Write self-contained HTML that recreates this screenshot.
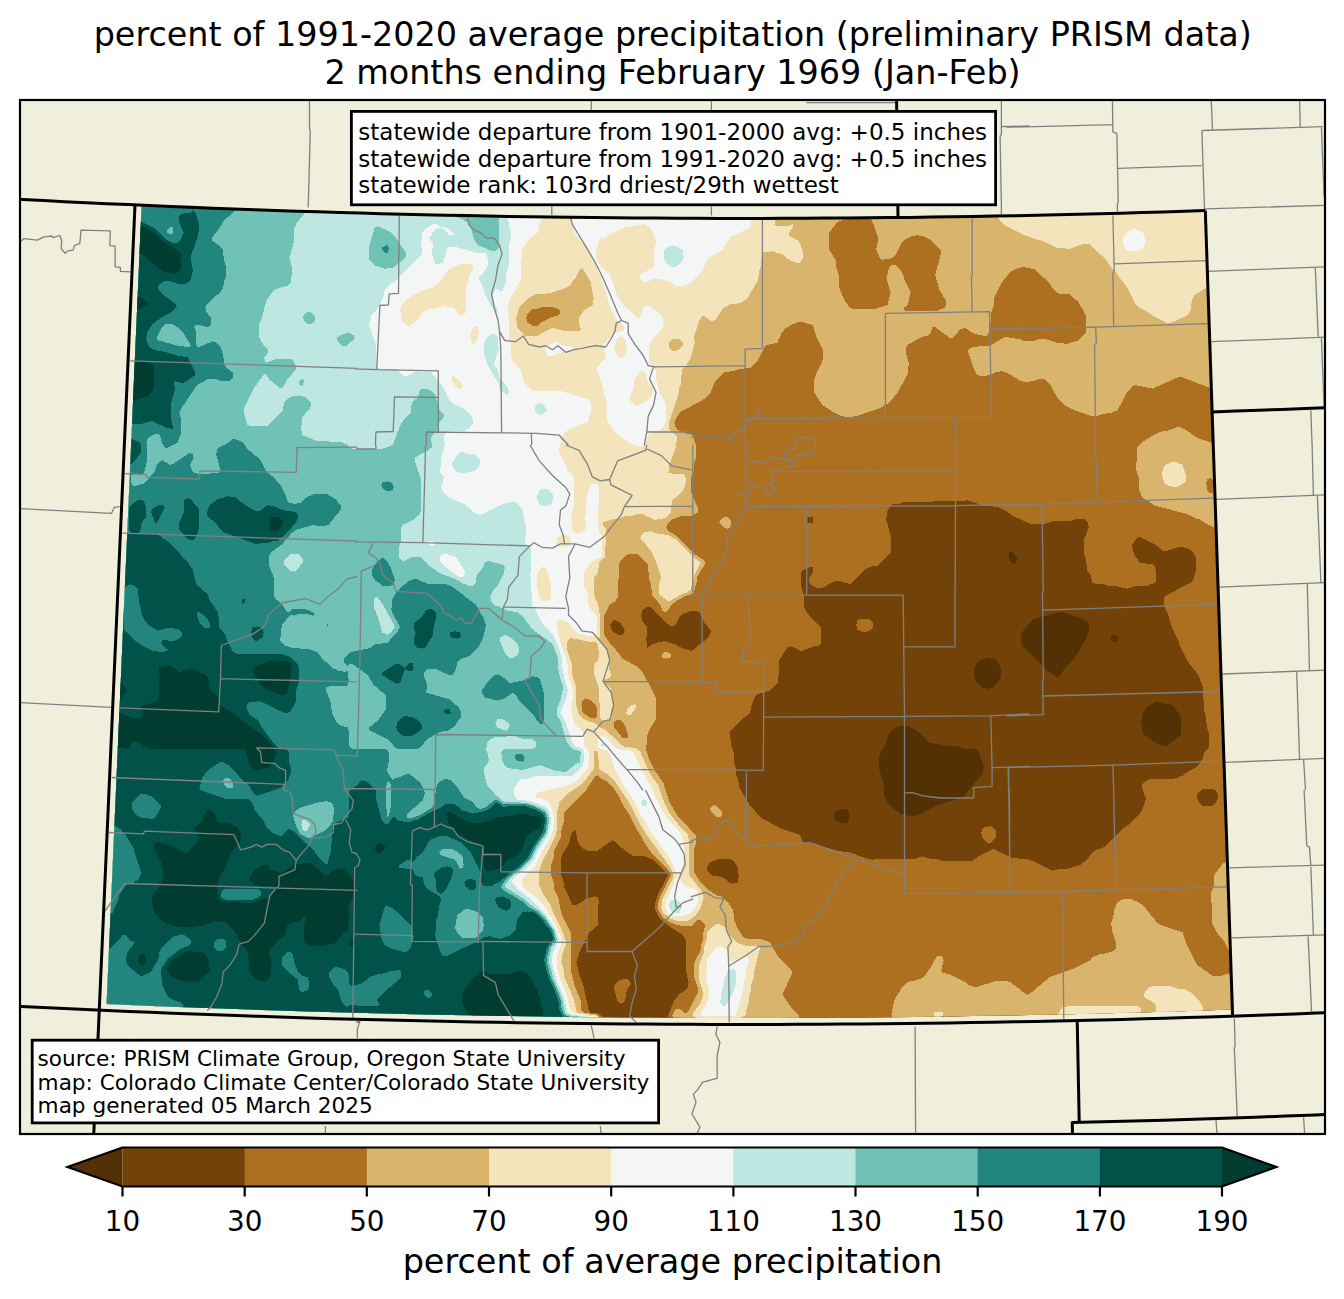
<!DOCTYPE html>
<html lang="en"><head><meta charset="utf-8"><title>percent of 1991-2020 average precipitation</title>
<style>html,body{margin:0;padding:0;background:#fff}body{width:1344px;height:1299px;overflow:hidden}</style></head>
<body>
<svg width="1344" height="1299" viewBox="0 0 1344 1299" style="display:block">
<defs>
<clipPath id="cd"><path d="M141.6 206.2L168.8 207.4L196.1 208.5L223.3 209.6L250.6 210.6L277.9 211.5L305.1 212.4L332.4 213.3L359.6 214.1L386.9 214.8L414.1 215.5L441.4 216.1L468.7 216.7L495.9 217.2L523.2 217.7L550.5 218.1L577.7 218.4L605.0 218.7L632.3 219.0L659.5 219.2L686.8 219.3L714.1 219.4L741.4 219.4L768.6 219.4L795.9 219.3L823.2 219.2L850.4 219.0L877.7 218.7L905.0 218.4L932.2 218.1L959.5 217.7L986.8 217.2L1014.0 216.7L1041.3 216.1L1068.6 215.5L1095.8 214.8L1123.1 214.1L1150.4 213.3L1177.6 212.5L1204.9 211.6L1231.9 1009.6L1203.0 1010.6L1174.2 1011.4L1145.3 1012.3L1116.5 1013.1L1087.6 1013.8L1058.8 1014.4L1029.9 1015.0L1001.1 1015.6L972.2 1016.1L943.3 1016.5L914.5 1016.9L885.6 1017.2L856.8 1017.4L827.9 1017.6L799.1 1017.8L770.2 1017.9L741.3 1017.9L712.5 1017.9L683.6 1017.8L654.8 1017.6L625.9 1017.4L597.0 1017.2L568.2 1016.9L539.3 1016.5L510.5 1016.1L481.6 1015.6L452.7 1015.0L423.9 1014.4L395.0 1013.8L366.2 1013.0L337.3 1012.3L308.5 1011.4L279.6 1010.5L250.8 1009.6L222.0 1008.6L193.1 1007.5L164.3 1006.4L135.4 1005.2L106.6 1004.0Z"/></clipPath>
<clipPath id="cf"><rect x="20" y="100" width="1305" height="1034"/></clipPath>
</defs>
<rect width="1344" height="1299" fill="#fff"/>
<rect x="20" y="100" width="1305" height="1034" fill="#efefdb"/>
<g clip-path="url(#cd)" shape-rendering="crispEdges">
<rect x="90" y="190" width="1170" height="850" fill="#543005"/>
<path d="M90.0 190.0L1255.0 190.0L1255.0 1035.0L90.0 1035.0ZM840.0 809.4L834.7 812.5L833.9 817.5L835.0 820.3L842.5 823.7L847.7 822.5L848.6 820.0L848.6 812.5L847.5 809.8L845.0 808.9ZM897.5 726.8L892.2 730.0L886.9 737.5L885.6 745.0L881.8 750.0L878.8 757.5L878.8 767.5L883.7 785.0L884.3 795.0L887.5 803.4L891.6 807.5L900.0 813.1L910.0 816.2L915.0 816.2L940.0 804.3L950.0 801.2L960.0 798.2L965.0 795.3L983.1 772.5L983.7 767.5L983.1 762.5L977.7 750.0L975.0 748.9L965.0 748.7L957.5 746.3L945.0 746.2L937.5 743.8L930.0 743.1L915.9 730.0L910.0 726.8L905.0 725.2ZM982.5 659.3L977.2 662.5L974.4 667.5L974.4 677.5L977.5 683.4L982.5 688.1L987.5 688.7L992.5 688.1L997.5 683.4L1000.6 677.5L1000.6 667.5L998.2 662.5L995.0 659.4L987.5 657.7ZM1010.0 551.7L1008.6 552.5L1008.4 555.0L1009.4 560.0L1012.5 563.5L1015.0 564.1L1017.3 560.0L1016.7 557.5L1013.3 552.5ZM1060.0 611.9L1032.5 619.4L1022.5 631.6L1021.3 635.0L1021.3 642.5L1022.5 645.9L1047.5 671.2L1052.5 674.3L1057.5 677.2L1060.0 675.8L1063.8 670.0L1072.5 660.9L1078.2 652.5L1081.8 645.0L1085.7 640.0L1088.7 632.5L1088.7 625.0L1088.1 622.5L1085.9 620.0L1062.5 611.9ZM1112.5 634.5L1110.3 637.5L1111.4 640.0L1115.0 642.2L1117.5 640.6L1117.5 636.8L1115.0 634.5ZM1155.0 701.9L1146.6 707.5L1141.9 715.0L1141.3 722.5L1141.9 730.0L1144.7 735.0L1152.5 740.7L1162.5 745.6L1167.5 745.6L1180.6 735.0L1181.2 730.0L1180.6 717.5L1178.2 712.5L1172.5 704.7L1162.5 703.2L1157.5 701.4Z" fill="#734208" fill-rule="evenodd"/>
<path d="M90.0 190.0L1255.0 190.0L1255.0 1035.0L1245.0 1035.0L662.3 1035.0L661.0 1030.0L653.3 1027.5L640.0 1026.3L627.5 1027.0L615.6 1030.0L613.8 1032.5L613.8 1035.0L90.0 1035.0ZM575.0 830.0L572.0 832.5L568.2 845.0L561.9 855.0L561.3 857.5L561.3 875.0L563.2 880.0L564.4 887.5L572.5 905.1L575.0 905.5L580.0 903.2L585.0 899.4L592.5 896.9L595.0 896.4L597.5 897.3L598.6 900.0L598.1 925.0L589.3 932.5L579.4 952.5L576.5 962.5L579.4 975.0L583.2 985.0L588.8 1010.0L590.5 1012.5L597.5 1013.0L600.0 1014.4L602.5 1017.6L605.0 1018.7L662.5 1018.7L667.5 1017.5L674.3 1000.0L680.0 993.8L687.5 988.4L688.7 982.5L686.3 972.5L685.6 940.0L682.5 934.7L670.0 926.8L660.0 919.0L655.3 910.0L655.2 902.5L657.7 895.0L667.5 875.8L667.5 874.3L657.5 863.5L652.5 859.4L645.0 856.3L632.5 855.6L624.1 850.0L615.0 841.4L612.5 840.3L597.5 850.6L592.5 851.2L587.5 850.6L582.5 848.2L579.3 845.0L576.8 840.0L576.4 832.5ZM612.5 621.4L610.2 625.0L611.8 630.0L615.0 633.2L620.0 635.5L622.5 635.2L624.8 630.0L620.3 622.5L615.0 620.2ZM647.5 606.9L642.2 610.0L641.3 615.0L641.9 620.0L647.3 627.5L646.3 640.0L647.5 647.6L652.5 644.4L660.0 641.8L665.0 641.3L675.0 644.3L682.5 648.2L690.0 650.6L692.5 650.5L702.5 641.8L705.9 640.0L708.2 637.5L710.6 632.5L710.5 630.0L704.3 622.5L700.0 612.3L697.5 611.4L690.0 611.3L682.5 614.3L679.3 617.5L675.3 625.0L672.5 626.1L670.0 625.6L667.5 623.7L652.5 608.8L650.0 607.0ZM717.5 859.3L709.7 862.5L706.9 867.5L707.0 870.0L712.5 875.6L722.5 876.9L729.1 882.5L732.5 883.7L737.7 882.5L738.7 877.5L738.1 867.5L732.5 859.7L727.5 858.8ZM807.5 517.0L805.3 520.0L806.8 522.5L810.0 523.6L812.5 522.7L813.5 520.0L812.7 517.5L810.0 516.4ZM905.0 501.8L900.0 503.7L892.5 504.4L889.3 507.5L886.9 512.5L886.3 520.0L891.2 537.5L890.6 552.5L877.5 565.6L870.0 566.9L864.1 570.0L850.0 584.2L840.0 581.3L835.0 581.3L832.5 581.9L822.5 588.1L817.5 588.1L812.5 585.7L809.4 582.5L809.4 577.5L813.1 572.5L813.5 570.0L812.6 567.5L810.0 567.0L802.3 570.0L801.4 572.5L801.3 587.5L803.7 595.0L804.4 607.5L807.5 613.4L820.6 627.5L821.1 642.5L820.0 645.2L812.5 646.8L802.5 650.6L800.0 650.6L792.5 646.9L790.0 646.4L787.2 647.5L779.4 660.0L778.1 682.5L770.0 690.6L757.5 694.4L755.0 696.6L751.8 705.0L750.0 713.4L742.5 718.8L729.5 732.5L731.3 745.0L733.7 752.5L733.8 762.5L735.7 767.5L736.3 775.0L738.2 780.0L739.4 787.5L750.0 805.9L762.5 818.7L780.0 828.2L800.0 834.8L801.9 840.0L805.0 843.1L812.5 843.8L837.5 850.7L850.0 852.5L867.5 858.7L872.5 859.9L877.5 858.8L915.0 858.7L922.5 856.4L930.0 858.7L937.5 859.3L942.5 861.2L970.0 861.2L972.5 860.6L977.5 856.8L992.5 849.4L995.0 849.4L1012.5 858.1L1027.5 859.3L1035.0 861.8L1052.5 870.6L1060.0 868.8L1067.5 868.7L1080.9 865.0L1088.7 857.5L1092.5 852.2L1097.5 849.3L1102.5 848.1L1105.0 846.2L1122.5 828.8L1130.0 823.7L1140.0 813.4L1143.2 807.5L1145.6 800.0L1145.6 797.5L1141.9 787.5L1142.0 785.0L1145.0 781.3L1150.0 778.8L1175.0 778.7L1182.5 775.7L1187.5 771.8L1195.0 768.2L1198.7 765.0L1203.2 757.5L1204.4 752.5L1209.2 747.5L1208.7 732.5L1206.8 727.5L1206.2 717.5L1203.8 710.0L1203.2 687.5L1198.2 675.0L1186.8 660.0L1179.3 645.0L1178.2 640.0L1171.8 627.5L1168.2 615.0L1163.8 605.0L1164.4 597.5L1166.6 595.0L1190.0 583.2L1193.1 580.0L1196.2 570.0L1195.6 557.5L1193.2 552.5L1190.0 549.4L1180.0 546.4L1167.5 550.6L1162.5 550.6L1155.0 544.3L1140.0 537.0L1137.5 537.3L1132.0 545.0L1131.9 547.5L1134.4 555.0L1140.0 562.8L1152.5 564.4L1155.0 566.6L1156.2 572.5L1156.1 580.0L1155.2 582.5L1147.5 585.7L1135.0 586.3L1127.5 588.7L1122.5 588.2L1117.5 586.3L1110.0 586.2L1102.5 583.8L1095.0 583.6L1092.3 582.5L1090.6 575.0L1086.9 570.0L1086.2 560.0L1083.8 552.5L1083.8 540.0L1088.7 527.5L1088.1 522.5L1085.0 519.4L1077.5 518.8L1070.0 521.2L1052.5 521.3L1045.0 523.7L1030.0 523.7L1012.5 515.7L1007.5 511.8L997.5 506.9L982.5 505.7L967.5 500.2L962.5 501.2ZM1202.5 789.4L1197.0 795.0L1196.9 797.5L1199.3 802.5L1202.5 805.6L1207.5 806.2L1212.5 805.6L1215.7 802.5L1218.1 797.5L1218.1 795.0L1215.3 790.0L1212.5 788.8ZM857.3 620.0L860.0 618.9L870.0 619.4L873.1 622.5L873.6 625.0L872.5 628.4L870.0 630.7L865.0 632.3L857.5 630.2L856.3 625.0ZM984.1 827.5L990.0 826.3L992.5 826.9L995.6 830.0L995.6 837.5L992.5 841.2L990.0 843.0L987.5 843.0L981.9 837.5L981.3 832.5L981.9 830.0ZM619.1 980.0L625.0 978.8L627.5 979.4L630.5 982.5L630.5 985.0L626.9 990.0L625.0 1000.9L622.5 1003.0L620.0 1003.0L616.9 1000.0L613.9 987.5L615.0 984.1Z" fill="#ad7021" fill-rule="evenodd"/>
<path d="M90.0 190.0L851.3 190.0L851.4 212.5L855.0 216.8L857.3 217.5L850.0 218.4L837.5 221.8L829.4 232.5L828.8 235.0L829.4 250.0L835.6 260.0L836.3 267.5L838.7 275.0L839.3 287.5L844.3 300.0L849.7 307.5L852.5 308.7L875.0 308.7L887.5 305.2L890.6 292.5L886.4 277.5L889.4 267.5L892.5 264.5L895.0 264.5L900.7 270.0L903.2 275.0L904.3 280.0L910.6 292.5L907.8 305.0L904.4 307.5L903.7 310.0L907.5 311.1L920.0 311.2L937.5 310.7L945.0 307.7L946.1 305.0L945.6 300.0L939.4 290.0L935.1 275.0L940.6 255.0L940.6 250.0L930.0 239.3L925.0 236.8L917.5 235.1L910.0 236.8L904.1 240.0L901.8 242.5L895.7 255.0L892.5 258.1L882.5 259.8L880.0 258.3L876.3 250.0L876.8 245.0L878.6 240.0L878.1 237.5L873.1 222.5L870.0 218.4L867.9 217.5L873.3 215.0L876.0 212.5L876.2 190.0L1255.0 190.0L1255.0 376.2L1217.5 376.5L1215.0 379.4L1212.7 387.5L1210.0 388.0L1180.0 376.4L1152.5 388.7L1135.0 385.2L1132.5 386.4L1126.8 392.5L1117.5 410.3L1110.0 413.2L1102.5 413.8L1097.5 415.7L1092.5 416.2L1075.0 410.7L1064.1 405.0L1057.5 398.4L1050.7 385.0L1045.0 379.4L1040.0 378.8L1035.0 380.7L1025.0 382.3L1020.0 380.7L1010.0 374.3L1002.5 371.3L997.5 371.8L985.0 376.2L977.5 375.3L974.3 370.0L968.4 352.5L968.3 350.0L972.5 346.9L990.0 345.6L1005.0 336.9L1020.0 339.3L1025.0 341.2L1032.5 341.2L1040.0 338.8L1045.0 338.8L1057.5 343.2L1067.5 343.7L1077.5 340.6L1085.6 332.5L1086.2 327.5L1085.6 315.0L1078.7 302.5L1070.0 294.4L1060.0 293.7L1056.6 292.5L1052.5 288.4L1048.7 282.5L1035.0 269.4L1022.5 266.9L1015.0 269.3L1010.0 272.2L1001.8 282.5L994.4 297.5L993.7 305.0L991.3 312.5L991.2 320.0L989.3 325.0L988.6 332.5L987.5 335.2L985.0 336.1L972.5 333.1L965.0 327.7L960.0 329.7L953.3 337.5L950.0 338.0L935.0 327.0L932.4 327.5L930.6 332.5L927.5 335.6L922.5 336.8L907.5 344.7L906.3 347.5L906.3 352.5L906.8 357.5L908.7 362.5L908.1 372.5L897.5 393.4L887.5 403.7L880.0 408.2L857.5 415.7L847.5 417.4L840.0 415.7L835.0 413.2L822.2 405.0L814.4 392.5L813.8 385.0L814.3 380.0L816.8 372.5L820.7 365.0L823.2 357.5L823.1 350.0L816.8 337.5L812.7 325.0L800.0 321.4L792.5 324.3L785.0 328.8L781.8 332.5L777.5 342.7L766.6 345.0L764.3 347.5L757.5 360.9L750.0 368.1L740.0 368.8L735.0 370.7L724.1 372.5L715.0 381.6L710.7 392.5L705.0 398.7L680.0 412.2L676.8 417.5L674.5 422.5L674.5 425.0L677.4 430.0L685.0 433.2L692.5 434.8L695.7 445.0L696.2 457.5L694.3 462.5L693.7 470.0L691.4 477.5L691.3 492.5L698.6 510.0L697.5 512.8L692.5 515.6L680.0 516.3L672.5 519.4L667.5 524.1L666.4 527.5L667.1 530.0L677.5 536.7L696.0 555.0L703.6 560.0L705.3 562.5L704.5 565.0L697.5 576.3L696.7 582.5L693.6 592.5L692.5 593.8L685.0 596.2L678.0 600.0L671.5 605.0L667.5 610.8L665.0 612.2L662.5 610.7L660.6 605.0L651.9 595.0L651.2 585.0L648.8 577.5L648.1 565.0L637.5 554.4L630.0 553.8L626.6 555.0L620.0 561.6L618.8 565.0L618.1 597.5L615.0 601.2L609.7 605.0L604.4 615.0L604.5 635.0L610.0 643.4L617.5 651.6L622.5 658.7L637.5 666.8L642.5 671.6L655.6 697.5L656.2 717.5L655.6 720.0L649.3 730.0L646.8 737.5L646.3 750.0L649.4 760.0L654.4 770.0L663.2 782.5L669.6 802.5L677.5 815.8L695.6 835.0L696.2 842.5L693.9 850.0L694.4 872.5L698.9 880.0L710.0 891.2L717.5 895.7L722.5 896.9L727.5 901.6L733.1 910.0L734.3 920.0L736.9 927.5L742.5 935.9L745.0 938.1L747.5 938.7L760.0 938.8L770.0 942.2L777.5 955.9L791.1 970.0L792.3 972.5L791.7 975.0L784.3 990.0L782.7 995.0L790.0 1005.9L798.5 1015.0L798.8 1017.5L795.0 1018.7L752.5 1018.8L735.0 1021.1L715.0 1021.3L700.0 1021.1L685.0 1018.8L675.0 1018.6L672.7 1017.5L672.4 1015.0L675.0 1010.0L677.5 1008.9L680.0 1009.4L685.0 1013.0L687.5 1012.5L698.0 992.5L697.7 987.5L693.7 975.0L693.7 965.0L696.7 957.5L700.2 952.5L701.0 945.0L702.9 940.0L703.3 932.5L705.5 925.0L700.0 919.6L697.5 920.0L692.5 925.6L682.5 926.3L670.0 922.6L662.5 917.0L658.3 910.0L657.7 905.0L660.8 895.0L670.0 877.5L670.8 875.0L670.0 873.1L667.5 869.4L651.3 852.5L644.3 842.5L640.6 835.0L636.8 830.0L628.1 812.5L624.3 807.5L618.0 795.0L612.5 786.7L608.4 782.5L600.0 777.9L597.5 775.0L595.0 776.7L586.2 790.0L564.4 812.5L563.7 822.5L561.4 830.0L560.7 837.5L554.4 850.0L553.7 857.5L551.3 865.0L551.3 870.0L551.3 875.0L553.7 882.5L554.4 890.0L558.1 897.5L561.9 915.0L570.7 932.5L571.3 972.5L574.4 985.0L580.6 1000.0L581.4 1010.0L583.5 1012.5L597.5 1014.8L600.5 1017.5L601.7 1020.0L601.7 1025.0L597.5 1029.1L586.0 1030.0L583.8 1032.5L583.7 1035.0L90.0 1035.0ZM542.5 306.8L540.0 308.2L532.5 309.4L527.5 314.1L526.3 317.5L527.2 322.5L532.5 325.6L537.5 325.6L541.5 322.5L552.5 316.8L557.5 315.6L560.5 312.5L560.0 309.9L552.5 306.8ZM585.0 698.3L582.5 701.4L581.4 705.0L582.5 712.4L589.6 717.5L592.5 718.3L595.0 718.6L596.5 717.5L597.2 712.5L596.6 707.5L595.0 704.0L590.9 700.0ZM617.5 719.5L613.7 722.5L614.3 727.5L622.3 737.5L625.0 738.5L627.6 737.5L628.0 735.0L625.7 727.5L622.5 721.6L620.0 719.5ZM1176.4 427.5L1180.0 426.9L1185.0 429.3L1197.5 438.1L1217.5 444.5L1222.5 451.0L1255.0 451.2L1255.0 526.2L1232.5 526.5L1228.8 530.0L1225.0 531.1L1220.0 529.3L1215.0 528.2L1205.0 523.2L1200.0 519.4L1195.0 518.2L1187.5 514.3L1155.0 505.6L1142.2 497.5L1139.3 490.0L1138.7 477.5L1136.3 470.0L1136.9 447.5L1141.6 442.5L1155.0 434.3L1160.0 431.9L1167.5 430.7ZM1207.5 479.2L1206.3 482.5L1206.9 490.0L1210.0 493.0L1212.5 492.6L1213.7 487.5L1213.1 480.0L1210.0 477.8ZM723.9 517.5L727.5 517.0L730.6 520.0L731.1 525.0L730.0 527.7L727.5 528.6L724.1 527.5L719.5 522.5L719.8 520.0ZM664.3 652.5L667.5 652.0L671.6 655.0L670.0 658.0L665.0 658.6L662.5 657.6L662.0 655.0ZM710.5 807.5L712.5 805.5L715.0 805.4L717.5 806.7L720.8 810.0L722.1 812.5L722.0 815.0L720.0 817.0L717.5 817.1L715.0 815.8L711.7 812.5L710.4 810.0ZM1233.9 857.5L1237.5 856.6L1240.1 857.5L1242.0 860.0L1245.0 870.4L1246.8 872.5L1247.5 877.5L1249.8 880.0L1250.0 920.0L1249.8 922.5L1247.5 925.0L1246.8 930.0L1245.0 932.1L1244.0 937.5L1242.5 939.9L1239.4 952.5L1238.0 955.0L1235.0 955.5L1230.0 952.8L1223.2 940.0L1216.8 932.5L1211.9 922.5L1211.3 892.5L1213.7 885.0L1214.4 875.0L1222.5 863.8ZM1121.3 900.0L1125.0 898.8L1130.0 898.8L1137.5 901.8L1142.8 905.0L1157.5 923.2L1162.5 925.7L1182.5 932.3L1186.8 945.0L1197.2 965.0L1212.5 975.6L1220.0 976.2L1227.5 973.8L1237.5 972.7L1242.5 976.0L1255.0 976.2L1255.0 1035.0L888.8 1035.0L888.8 1032.5L890.6 1030.0L899.2 1027.5L910.0 1026.4L1147.5 1025.2L1187.5 1024.7L1212.5 1026.1L1235.0 1026.1L1237.7 1025.0L1238.5 1022.5L1237.7 1020.0L1235.0 1018.9L1207.5 1018.8L1197.5 1020.3L1160.0 1020.2L1147.5 1018.8L1132.5 1020.3L1065.0 1020.3L1050.0 1018.8L950.0 1018.8L937.5 1020.3L927.5 1018.8L895.0 1018.7L892.5 1017.7L891.4 1015.0L894.4 1000.0L902.5 986.6L907.5 981.9L915.0 980.7L923.4 977.5L930.7 967.5L935.0 959.1L937.5 956.4L940.0 955.3L942.5 956.7L943.7 960.0L941.4 970.0L942.3 972.5L950.0 974.4L965.0 981.8L970.0 985.7L975.0 987.3L995.0 981.3L1007.5 981.3L1010.9 982.5L1025.0 993.6L1027.5 994.7L1030.0 993.6L1050.0 976.9L1075.0 968.2L1090.0 960.3L1092.5 957.2L1100.0 954.3L1107.5 953.2L1115.2 950.0L1116.1 947.5L1116.2 942.5L1111.8 930.0L1111.3 922.5L1113.2 917.5L1114.3 910.0L1117.2 902.5ZM699.8 1025.0L707.5 1023.9L722.5 1023.8L745.0 1024.4L762.5 1026.1L795.0 1026.8L798.1 1027.5L801.0 1030.0L801.2 1035.0L782.5 1035.0L679.0 1035.0L679.2 1030.0L681.5 1027.5Z" fill="#d8b46c" fill-rule="evenodd"/>
<path d="M90.0 190.0L776.3 190.0L776.5 215.0L774.2 225.0L777.5 226.2L787.5 226.2L791.5 225.0L792.5 223.7L792.7 227.5L789.0 232.5L788.4 235.0L792.5 238.1L797.8 240.0L800.7 245.0L803.1 252.5L803.1 257.5L800.2 262.5L797.5 263.0L790.0 260.6L782.5 254.4L772.5 251.3L765.0 251.9L761.9 255.0L761.2 265.0L758.8 272.5L758.1 280.0L747.5 298.4L740.0 303.1L730.0 304.4L725.0 306.8L722.5 309.1L715.0 320.3L712.5 321.1L710.0 320.6L705.0 316.5L702.5 315.9L699.4 320.0L694.4 335.0L693.9 337.5L694.9 342.5L690.7 357.5L688.2 362.5L681.9 370.0L680.7 385.0L679.3 387.5L678.2 395.0L669.7 420.0L668.9 425.0L669.7 430.0L676.0 435.0L677.3 437.5L675.7 447.5L669.3 465.0L668.5 472.5L672.5 473.7L682.5 473.9L685.2 475.0L686.1 482.5L683.2 490.0L677.5 496.2L672.2 500.0L670.6 512.5L665.0 518.1L655.0 519.8L642.5 514.4L637.5 513.8L632.5 515.7L625.0 516.3L620.0 518.2L612.5 519.3L602.9 522.5L602.7 525.0L605.3 527.5L606.2 530.0L605.1 555.0L604.6 557.5L599.1 562.5L598.1 572.5L594.4 577.5L593.9 595.0L598.2 605.0L599.8 615.0L600.0 632.5L599.2 640.0L605.6 647.5L608.7 657.5L608.8 667.5L611.1 675.0L610.0 677.7L605.0 679.5L603.3 682.5L610.0 687.2L611.2 690.0L611.3 697.5L613.1 705.0L611.3 710.0L611.0 717.5L609.6 720.0L605.0 721.2L602.5 721.1L601.1 720.0L600.3 717.5L598.7 687.5L593.8 672.5L594.4 665.0L598.1 660.0L598.7 657.5L598.4 645.0L595.0 641.9L585.0 641.3L577.5 638.9L570.0 638.3L566.9 642.5L566.6 645.0L567.3 650.0L571.5 662.5L572.2 675.0L576.5 687.5L576.3 705.0L579.1 715.0L582.5 718.3L587.5 721.0L593.1 722.5L597.5 724.7L600.0 727.8L605.9 730.0L622.5 746.2L635.0 748.2L638.5 750.0L640.6 752.5L649.3 772.5L658.0 785.0L664.3 802.5L669.5 812.5L675.0 820.7L688.1 835.0L688.8 840.0L688.7 872.5L689.3 875.0L693.0 880.0L701.0 890.0L703.7 897.5L700.8 907.5L696.2 915.0L692.5 918.1L687.5 920.6L680.0 921.1L675.0 920.4L670.0 918.3L662.9 912.5L661.4 907.5L662.2 900.0L673.0 877.5L673.4 875.0L670.3 867.5L646.8 835.0L639.3 822.5L630.5 805.0L615.0 781.5L608.5 775.0L600.0 769.7L598.8 767.5L598.3 752.5L595.0 750.3L594.1 752.5L593.8 767.5L593.1 770.0L582.5 783.8L569.1 792.5L559.4 802.5L556.9 812.5L556.6 830.0L555.8 835.0L542.0 862.5L538.8 872.5L538.8 880.0L539.3 885.0L541.9 892.5L550.6 905.0L552.0 910.0L560.8 927.5L565.7 940.0L565.7 945.0L562.2 955.0L561.4 962.5L563.8 970.0L564.5 977.5L573.2 997.5L576.2 1010.0L577.5 1012.6L597.5 1015.8L599.3 1017.5L600.5 1022.5L599.8 1025.0L597.5 1027.3L579.2 1030.0L578.3 1035.0L90.0 1035.0ZM580.0 269.3L575.7 277.5L570.0 285.3L565.0 288.2L550.0 293.2L535.0 294.4L527.5 298.8L519.4 307.5L516.3 317.5L516.9 327.5L525.0 335.6L535.0 336.2L537.5 335.6L552.5 327.7L565.0 331.2L577.5 331.2L581.3 330.0L578.8 322.5L579.4 317.5L584.1 310.0L592.8 305.0L593.7 297.5L590.6 282.5L588.2 277.5L582.5 268.4ZM672.5 339.4L669.4 342.5L669.4 347.5L672.5 350.6L675.0 351.1L678.4 350.0L683.0 345.0L683.0 342.5L680.0 339.4ZM1001.2 190.0L1255.0 190.0L1255.0 301.2L1217.5 301.3L1215.0 301.1L1212.5 298.9L1209.8 295.0L1207.5 288.5L1205.0 288.4L1194.7 295.0L1191.9 300.0L1190.6 310.0L1187.5 315.3L1170.0 323.1L1167.5 323.1L1152.5 315.7L1147.5 311.8L1140.0 308.2L1136.3 305.0L1125.7 285.0L1120.0 278.4L1117.5 274.1L1110.0 265.9L1106.2 260.0L1090.0 244.4L1082.5 244.3L1070.0 248.7L1057.5 248.1L1045.0 241.8L1025.0 235.7L1004.1 225.0L999.0 220.0L998.5 217.5L1000.0 216.2L1007.5 215.0L1005.0 214.1L1001.6 210.0ZM1171.4 462.5L1175.0 461.9L1182.5 464.8L1185.7 475.0L1186.1 480.0L1185.3 482.5L1177.5 486.7L1175.0 487.3L1166.6 485.0L1164.4 482.5L1161.9 475.0L1161.9 472.5L1164.8 465.0ZM644.1 532.5L650.0 531.3L657.5 533.7L668.3 535.0L676.5 540.0L695.0 558.3L700.8 562.5L694.5 575.0L690.5 590.0L687.5 592.2L682.5 593.8L670.0 600.8L667.5 600.6L659.8 595.0L658.9 592.5L658.8 585.0L661.1 577.5L660.6 575.0L655.7 560.0L650.7 550.0L641.4 540.0L640.3 537.5L641.4 535.0ZM631.7 705.0L635.0 704.3L636.2 705.0L636.0 707.5L630.7 715.0L627.5 715.1L626.5 712.5L627.5 709.1ZM714.1 925.0L717.5 923.9L720.0 924.4L725.0 927.2L730.0 935.9L737.5 943.1L747.5 946.2L757.5 946.0L760.1 947.5L753.8 972.5L753.7 977.5L751.3 985.0L751.2 990.0L748.8 997.5L748.7 1002.5L746.9 1007.5L745.9 1015.0L742.5 1017.1L735.0 1018.5L702.5 1018.7L695.6 1017.5L692.0 1015.0L700.6 1002.5L703.1 995.0L703.1 992.5L699.3 980.0L698.9 965.0L704.1 952.5L704.6 945.0L706.5 940.0L707.3 932.5ZM1149.1 987.5L1152.5 986.3L1170.0 986.3L1177.5 988.7L1185.0 989.4L1190.0 991.8L1198.7 1000.0L1203.1 1007.5L1203.4 1015.0L1200.0 1017.1L1162.5 1017.2L1157.5 1016.0L1156.6 1015.0L1155.6 1005.0L1152.5 1001.8L1145.0 997.8L1143.9 995.0L1145.0 991.6ZM1062.2 1007.5L1067.5 1006.3L1137.5 1006.4L1140.2 1007.5L1141.1 1010.0L1140.6 1012.5L1137.5 1016.2L1132.5 1017.2L1060.0 1017.0L1057.3 1015.0ZM934.7 1012.5L940.0 1011.4L942.7 1012.5L943.3 1015.0L940.0 1017.1L935.0 1016.5L933.7 1015.0ZM701.8 1027.5L715.0 1026.3L747.5 1027.5L753.4 1030.0L754.0 1035.0L750.0 1035.0L696.9 1035.0L697.5 1030.0ZM1143.4 1030.0L1160.0 1027.9L1192.5 1028.1L1200.4 1030.0L1201.2 1035.0L1185.0 1035.0L1126.0 1035.0L1132.5 1034.1L1134.2 1032.5L1140.0 1031.7Z" fill="#f3e4bb" fill-rule="evenodd"/>
<path d="M90.0 190.0L551.3 190.0L550.7 215.0L547.4 217.5L542.5 219.0L540.0 221.5L537.8 232.5L532.5 236.3L526.3 242.5L521.9 250.0L520.6 280.0L509.4 300.0L507.6 310.0L508.7 315.0L508.8 337.5L511.2 345.0L511.3 357.5L512.5 360.9L520.6 370.0L524.4 382.5L532.5 390.6L562.5 391.3L587.5 399.4L590.6 402.5L591.2 410.0L587.7 422.5L580.0 424.4L565.0 432.2L561.9 437.5L558.9 450.0L559.4 452.5L565.7 465.0L566.9 470.0L572.8 475.0L573.7 477.5L573.7 507.5L571.3 515.0L571.9 530.0L575.0 533.1L577.5 533.6L580.0 533.1L585.3 530.0L586.2 527.5L585.1 517.5L586.2 512.5L586.8 495.0L590.0 486.6L592.5 484.3L597.5 483.5L598.7 487.5L598.3 525.0L599.4 532.5L602.5 537.5L602.5 540.0L602.0 555.0L600.0 557.4L595.0 559.3L591.3 562.5L584.4 572.5L583.8 575.0L584.4 587.5L588.1 592.5L588.6 595.0L587.6 602.5L588.3 605.0L590.0 608.4L596.2 615.0L597.1 617.5L597.1 632.5L596.0 635.0L595.0 635.9L587.5 636.1L577.5 633.1L573.8 630.0L568.4 622.5L560.0 619.5L557.5 619.9L556.4 622.5L559.7 640.0L565.3 655.0L567.8 665.0L568.7 677.5L572.8 690.0L573.1 697.5L571.2 705.0L571.8 715.0L574.7 725.0L580.0 728.8L583.1 732.5L584.0 745.0L588.0 750.0L588.7 752.5L588.7 765.0L587.5 768.4L577.5 780.6L567.5 785.6L537.2 792.5L535.9 795.0L536.1 797.5L545.0 799.4L547.5 801.2L550.8 805.0L553.4 812.5L553.8 820.0L552.9 830.0L550.6 837.5L544.4 847.5L535.0 866.0L521.9 880.0L521.9 885.0L526.4 890.0L535.0 896.2L542.5 904.0L548.4 912.5L556.8 927.5L561.0 937.5L561.6 942.5L556.8 957.5L556.5 965.0L559.6 977.5L565.8 992.5L569.7 1007.5L572.1 1012.5L580.7 1015.0L597.5 1016.8L599.3 1020.0L599.4 1022.5L597.5 1026.2L581.6 1027.5L577.5 1028.8L574.9 1030.0L574.2 1035.0L90.0 1035.0ZM460.0 264.3L452.5 266.9L450.0 268.8L445.0 274.1L441.2 280.0L433.4 287.5L425.0 289.4L415.0 294.3L406.6 300.0L402.5 304.1L400.2 310.0L401.9 320.0L403.8 322.5L407.5 325.5L410.0 325.5L417.8 320.0L422.5 312.2L430.0 309.3L437.5 308.2L442.5 306.3L452.5 306.9L456.2 310.0L460.0 315.2L462.5 315.5L465.0 313.4L466.2 310.0L466.3 287.5L469.4 275.0L473.1 270.0L473.6 267.5L472.7 265.0L470.0 263.9ZM475.0 325.9L471.8 330.0L470.2 335.0L471.7 342.5L472.5 343.8L475.0 343.1L478.1 337.5L478.7 332.5L478.0 327.5ZM542.5 567.0L539.3 570.0L536.9 575.0L536.4 585.0L539.4 597.5L542.5 600.6L545.0 601.2L550.2 600.0L551.1 597.5L551.2 585.0L549.3 580.0L548.1 572.5L545.2 567.5ZM562.5 534.4L557.2 537.5L556.4 542.5L557.2 545.0L560.0 546.7L562.5 547.3L565.0 546.8L570.2 545.0L571.1 540.0L570.0 537.2L565.0 534.4ZM452.5 376.3L451.9 380.0L455.0 385.9L457.5 388.1L460.0 388.9L462.5 387.7L460.7 382.5L458.7 380.0L455.0 376.6ZM576.2 190.0L751.2 190.0L751.2 222.5L750.3 227.5L730.0 237.2L722.8 250.0L709.1 257.5L706.8 260.0L703.1 270.0L701.2 272.5L690.9 282.5L685.0 285.6L680.0 286.2L675.0 285.6L670.0 281.9L660.0 278.8L652.5 279.4L645.0 282.3L642.5 281.1L639.5 277.5L640.0 274.8L652.5 267.8L653.7 265.0L653.8 250.0L655.7 245.0L656.2 240.0L650.3 227.5L646.2 225.0L642.5 223.9L635.0 226.2L625.0 226.9L610.0 234.3L605.0 238.0L600.0 238.5L596.5 250.0L596.3 257.5L601.5 267.5L610.3 275.0L616.8 295.0L619.3 300.0L627.5 308.7L637.5 318.0L640.1 317.5L641.9 310.0L643.4 307.5L645.0 305.8L647.5 305.9L658.4 312.5L663.1 317.5L663.7 322.5L663.1 327.5L652.5 339.1L649.4 345.0L648.8 357.5L649.4 362.5L655.6 370.0L656.3 380.0L659.3 392.5L665.6 402.5L666.1 415.0L665.3 422.5L663.1 427.5L660.9 430.0L652.5 431.9L648.8 435.0L646.9 437.5L645.0 445.2L642.5 446.1L637.5 446.2L630.0 443.2L615.0 432.8L606.9 420.0L606.3 412.5L607.4 407.5L606.2 400.0L604.3 395.0L603.2 387.5L596.9 370.0L597.0 367.5L605.5 357.5L605.6 355.0L603.8 350.0L604.0 345.0L614.1 332.5L622.5 331.0L624.0 330.0L624.1 327.5L622.5 324.1L616.5 320.0L609.3 305.0L603.2 282.5L593.5 260.0L583.2 242.5L574.4 232.5L571.4 222.5L572.5 218.7L576.0 215.0ZM640.0 370.8L634.4 380.0L633.1 390.0L629.4 397.5L630.0 400.8L635.0 405.5L637.5 405.6L640.0 404.3L648.4 400.0L653.1 392.5L653.1 390.0L646.9 380.0L645.3 372.5L642.5 370.9ZM620.0 336.9L616.9 340.0L614.4 347.5L614.4 350.0L616.8 355.0L620.0 358.0L622.5 358.0L625.0 355.9L627.3 350.0L625.6 340.0L622.5 336.9ZM1201.3 212.5L1202.5 211.8L1205.0 212.4L1205.7 215.0L1205.0 216.2L1202.5 215.8ZM1129.1 230.0L1135.0 228.8L1142.8 232.5L1145.6 240.0L1145.6 242.5L1143.2 247.5L1140.9 250.0L1137.5 251.2L1130.0 251.2L1127.5 250.6L1124.4 247.5L1122.7 240.0L1123.3 237.5L1125.0 234.1ZM553.9 342.5L557.5 342.0L562.5 345.7L572.5 347.0L575.0 349.6L577.5 349.6L579.2 347.5L582.5 346.7L584.3 347.5L582.5 350.4L575.0 350.2L562.5 351.8L552.5 355.6L550.0 356.1L547.5 355.3L545.2 350.0L546.4 347.5L550.0 344.3ZM589.9 345.0L592.5 343.7L595.4 345.0ZM599.6 737.5L602.5 736.4L605.0 736.9L611.2 742.5L615.0 747.8L622.5 749.9L630.0 750.4L633.5 752.5L646.8 780.0L653.1 790.0L654.3 795.0L661.8 810.0L668.7 820.0L680.4 832.5L683.6 842.5L683.6 860.0L680.5 872.5L677.8 875.0L678.4 877.5L684.1 885.0L695.0 889.6L697.5 892.1L698.4 895.0L697.5 903.3L695.0 908.3L690.9 912.5L682.5 916.3L675.0 916.5L670.0 914.3L666.3 910.0L665.4 905.0L666.3 900.0L673.6 885.0L675.0 880.1L677.1 877.5L677.4 875.0L670.8 860.0L650.0 830.8L645.8 822.5L642.0 817.5L633.3 800.0L621.9 782.5L614.3 767.5L609.2 752.5L607.5 750.3L602.5 750.0L598.4 747.5L597.6 742.5ZM716.6 947.5L720.0 946.4L722.5 946.9L726.2 950.0L728.1 952.5L730.0 961.5L735.0 960.7L745.0 955.9L747.5 956.0L748.4 957.5L748.7 962.5L746.3 970.0L746.2 975.0L743.8 982.5L743.1 990.0L739.3 1002.5L738.1 1010.0L735.8 1015.0L732.5 1016.3L722.5 1016.4L705.0 1016.3L700.0 1015.0L705.8 1005.0L708.7 997.5L708.7 987.5L706.3 980.0L706.9 960.0L710.0 954.1ZM706.6 1030.0L715.0 1028.8L731.9 1030.0L737.0 1032.5L737.3 1035.0L705.6 1035.0Z" fill="#f4f5f5" fill-rule="evenodd"/>
<path d="M90.0 190.0L526.2 190.0L526.2 210.0L525.3 215.0L522.5 216.3L512.5 216.3L507.7 217.5L511.2 235.0L510.7 240.0L508.8 245.0L508.7 265.0L506.3 272.5L506.2 282.5L502.5 290.6L500.0 291.4L497.5 288.6L495.0 289.4L492.6 295.0L494.1 302.5L497.6 310.0L497.5 312.6L492.0 307.5L484.3 292.5L483.2 287.5L479.4 280.0L479.5 277.5L485.7 270.0L488.1 265.0L488.2 260.0L485.6 252.5L477.5 253.1L455.0 246.8L450.0 246.4L447.3 247.5L445.7 255.0L442.7 262.5L440.0 263.7L435.0 264.0L431.4 252.5L433.6 245.0L432.8 242.5L429.8 240.0L429.5 237.5L435.0 229.6L440.0 227.8L442.5 227.7L450.0 235.5L453.7 235.0L453.4 232.5L450.0 229.4L445.0 227.4L440.0 227.1L438.3 225.0L435.0 224.0L432.5 224.4L424.1 230.0L421.9 232.5L421.9 240.0L420.6 242.5L422.3 252.5L421.1 255.0L395.0 281.2L389.1 285.0L385.0 289.1L383.1 297.5L378.2 307.5L371.9 315.0L368.9 325.0L376.2 345.0L376.4 365.0L377.5 367.7L380.0 368.6L397.5 369.5L402.0 375.0L405.0 376.1L407.5 376.0L415.0 371.4L430.0 371.9L438.2 380.0L443.2 387.5L450.0 400.9L452.5 403.2L465.9 410.0L470.7 415.0L473.1 420.0L473.1 422.5L470.3 427.5L465.0 430.6L450.0 431.3L447.5 431.9L444.4 435.0L443.9 437.5L444.9 442.5L443.1 452.5L441.3 457.5L441.2 465.0L439.5 470.0L439.8 472.5L442.8 475.0L443.6 477.5L443.2 482.5L441.4 487.5L441.9 490.0L443.8 492.5L450.0 498.2L465.0 504.3L475.0 513.2L480.0 514.8L485.0 513.2L502.5 504.3L512.5 501.4L515.0 501.9L517.5 503.8L523.1 510.0L523.8 520.0L526.2 527.5L526.2 535.0L524.5 540.0L524.8 542.5L530.0 546.6L531.2 550.0L531.2 570.0L530.1 575.0L531.1 580.0L531.9 605.0L535.7 610.0L541.8 622.5L553.1 635.0L557.9 645.0L561.6 657.5L561.8 665.0L564.7 680.0L568.0 690.0L565.7 700.0L560.5 712.5L565.8 722.5L572.1 742.5L575.0 746.2L582.5 748.7L584.3 752.5L583.3 765.0L576.2 772.5L572.5 775.6L570.0 776.2L535.0 776.3L527.5 778.7L522.5 778.8L519.7 780.0L514.4 787.5L514.4 795.0L517.5 799.5L530.0 801.0L545.0 806.5L548.7 810.0L551.4 820.0L548.4 835.0L540.0 847.3L533.8 860.0L525.0 869.5L514.6 877.5L512.4 880.0L512.1 882.5L518.8 890.0L528.7 897.5L545.0 913.3L555.9 930.0L559.0 940.0L554.0 950.0L551.8 957.5L551.8 962.5L557.4 982.5L563.1 995.0L567.7 1012.5L572.9 1015.0L597.1 1017.5L598.5 1020.0L597.5 1025.2L595.0 1026.1L575.5 1027.5L569.9 1030.0L568.9 1035.0L90.0 1035.0ZM427.5 542.5L430.0 545.5L432.5 546.0L435.0 545.0L435.0 542.5L432.5 541.4L430.0 541.1ZM442.5 554.4L439.5 557.5L439.5 560.0L441.3 562.5L449.1 570.0L456.5 575.0L460.0 576.8L462.5 576.6L465.2 575.0L465.5 572.5L457.5 559.1L455.0 556.9L447.5 554.4ZM666.6 247.5L672.5 245.2L677.5 246.8L682.8 250.0L683.7 257.5L683.1 260.0L680.0 263.7L677.5 265.7L672.5 267.3L670.0 266.1L666.3 262.5L664.4 260.0L663.8 255.0L664.4 250.0ZM489.1 335.0L492.5 333.9L495.0 334.4L498.1 337.5L498.7 350.0L494.4 362.5L494.4 365.0L498.1 370.0L499.0 377.5L508.1 387.5L508.9 392.5L507.6 395.0L499.7 390.0L498.4 382.5L491.8 372.5L486.9 362.5L484.3 355.0L484.4 342.5L486.8 337.5ZM536.3 405.0L540.0 402.8L543.7 405.0L547.2 410.0L545.0 413.1L540.0 414.8L537.5 413.6L534.5 410.0L534.5 407.5ZM459.8 452.5L462.5 452.0L467.5 453.7L475.0 454.4L480.0 459.2L480.6 462.5L478.2 467.5L475.0 470.6L472.5 471.2L462.5 473.6L460.0 473.1L454.7 470.0L451.9 465.0L452.0 462.5ZM539.7 490.0L542.5 488.9L547.5 489.4L552.5 494.1L553.6 497.5L553.1 500.0L550.3 505.0L545.0 506.2L539.7 505.0L536.4 497.5ZM602.3 742.5L605.2 745.0L602.5 746.6L600.9 745.0ZM642.4 800.0L645.6 800.0L647.2 802.5L646.4 805.0L645.0 806.6L642.5 805.6L641.5 802.5ZM671.8 900.0L675.0 899.4L680.3 902.5L681.2 907.5L679.9 912.5L675.0 913.1L672.5 912.3L670.1 910.0L668.8 905.0L670.0 901.6ZM729.2 970.0L732.5 969.0L735.2 970.0L736.1 972.5L736.2 982.5L733.2 992.5L727.5 1003.4L725.0 1005.5L722.5 1005.5L720.2 1002.5L721.3 992.5L723.2 987.5L724.3 980.0L726.9 972.5Z" fill="#bfe7e1" fill-rule="evenodd"/>
<path d="M90.0 190.0L301.2 190.0L301.5 207.5L304.7 212.5L303.6 215.0L296.8 222.5L293.8 230.0L293.7 242.5L289.4 257.5L292.4 270.0L290.6 282.5L287.5 285.6L275.0 289.4L272.5 291.6L266.9 300.0L264.3 307.5L263.1 315.0L258.8 325.0L259.4 337.5L261.8 342.5L268.0 350.0L268.0 352.5L264.4 357.5L265.0 363.6L265.7 362.5L277.5 358.8L290.0 358.8L292.8 360.0L295.6 365.0L295.6 370.0L287.5 379.1L282.7 387.5L280.0 388.0L270.0 380.3L265.0 373.1L254.3 387.5L244.4 407.5L243.8 412.5L247.3 425.0L252.5 426.2L267.5 425.6L282.5 410.9L284.4 402.5L287.5 398.8L292.5 396.3L302.5 396.3L305.0 396.9L308.7 400.0L310.6 402.5L311.1 405.0L310.0 408.4L301.9 417.5L301.3 430.0L302.5 435.2L317.5 441.2L340.0 441.8L347.5 444.7L350.0 447.8L352.5 448.7L382.5 448.7L392.7 445.0L399.3 427.5L402.5 421.6L410.6 412.5L411.9 402.5L417.8 397.5L419.8 390.0L422.5 388.9L427.5 389.4L432.5 391.8L435.0 394.1L439.4 410.0L444.1 415.0L443.5 417.5L439.4 422.5L438.1 430.0L432.2 435.0L431.3 437.5L431.7 447.5L427.5 450.7L414.8 457.5L414.5 460.0L421.2 480.0L421.2 510.0L420.0 513.4L413.4 520.0L402.3 525.0L401.4 527.5L401.2 540.0L398.8 547.5L399.4 557.5L402.5 560.5L405.0 560.6L412.5 556.9L420.0 556.9L431.6 567.5L440.0 573.2L457.5 580.0L462.5 583.2L470.0 586.1L472.5 585.6L475.6 582.5L476.9 575.0L483.1 567.5L485.0 561.7L490.0 561.3L503.3 565.0L504.8 567.5L503.2 575.0L498.2 585.0L492.5 591.6L490.8 595.0L490.2 597.5L491.8 602.5L495.0 605.6L500.0 606.8L507.5 610.6L518.4 612.5L523.7 617.5L527.5 623.4L535.0 631.2L550.0 641.9L553.0 645.0L557.7 657.5L558.7 672.5L563.2 687.5L560.5 700.0L556.5 710.0L556.5 715.0L560.3 720.0L566.8 742.5L572.5 749.0L580.0 751.2L580.7 752.5L580.0 762.3L575.0 764.4L567.5 771.0L565.0 772.1L555.0 770.6L540.0 765.2L522.5 769.9L507.5 768.1L504.3 765.0L501.9 760.0L501.4 752.5L502.5 749.8L507.5 748.8L532.5 748.6L535.2 747.5L536.1 745.0L535.6 742.5L532.5 739.4L522.5 738.7L515.0 736.3L495.0 736.8L490.0 739.3L486.9 742.5L486.3 750.0L488.2 755.0L488.7 760.0L488.1 762.5L484.4 767.5L483.8 772.5L486.9 785.0L495.8 795.0L502.5 800.8L505.0 801.7L527.5 802.8L542.5 808.5L547.2 812.5L549.2 820.0L547.2 832.5L538.8 845.0L530.9 860.0L522.5 868.5L515.0 873.9L508.7 880.0L505.1 885.0L505.7 887.5L525.0 899.4L530.8 905.0L540.0 911.4L545.8 917.5L554.2 930.0L557.1 940.0L551.6 947.5L548.5 960.0L553.9 980.0L559.8 992.5L562.2 1000.0L565.0 1012.5L567.7 1015.0L572.5 1016.1L595.2 1017.5L597.7 1020.0L597.8 1022.5L595.8 1025.0L577.5 1026.1L560.0 1029.5L558.8 1030.0L558.0 1035.0L90.0 1035.0ZM290.0 554.4L284.4 560.0L284.4 565.0L290.0 570.7L295.0 571.7L296.6 570.0L303.0 562.5L303.1 560.0L300.0 554.7L295.0 553.8ZM375.0 597.5L373.9 600.0L373.8 607.5L378.2 617.5L382.2 632.5L387.5 634.7L390.8 632.5L394.6 627.5L393.0 622.5L382.5 604.0L377.5 597.4ZM497.5 719.4L495.2 722.5L497.2 727.5L505.0 730.6L507.5 730.2L509.8 725.0L508.3 722.5L502.5 719.4ZM500.0 637.3L499.5 640.0L505.0 653.4L510.0 658.0L512.5 658.1L515.0 656.8L517.8 655.0L518.7 652.5L518.7 647.5L517.5 644.1L512.5 638.8L507.5 635.8L505.0 635.2ZM302.5 819.9L301.4 825.0L302.5 830.0L305.0 831.0L307.5 830.2L309.8 825.0L308.6 822.5L305.0 819.5ZM451.2 190.0L501.2 190.0L501.2 210.0L498.6 217.5L498.6 247.5L497.5 250.2L492.5 251.2L477.5 244.9L474.3 240.0L470.7 227.5L467.8 222.5L462.5 219.3L457.5 217.9L451.6 212.5ZM374.8 227.5L377.5 226.4L380.0 226.9L390.9 232.5L395.0 236.6L405.6 252.5L406.1 255.0L405.0 258.4L397.5 263.8L392.5 268.1L385.0 268.7L375.0 265.6L369.4 260.0L368.8 247.5ZM306.7 312.5L310.0 312.0L315.0 316.7L315.5 320.0L313.7 322.5L310.0 324.7L307.5 323.6L303.9 320.0L302.8 317.5L303.9 315.0ZM341.3 335.0L347.5 332.7L353.3 335.0L354.7 337.5L353.3 340.0L350.0 342.1L347.8 345.0L345.0 346.1L342.5 345.6L337.5 340.7L337.3 337.5ZM299.9 380.0L302.5 379.2L303.8 380.0L303.3 385.0L302.5 386.3L299.6 385.0L299.0 382.5Z" fill="#70c1b6" fill-rule="evenodd"/>
<path d="M90.0 190.0L226.3 190.0L226.5 205.0L229.4 207.5L235.4 210.0L230.9 215.0L225.0 219.1L218.2 230.0L212.0 237.5L212.5 240.8L220.0 246.3L223.1 250.0L223.8 260.0L226.2 267.5L225.7 277.5L224.3 280.0L223.1 287.5L220.3 292.5L213.8 297.5L206.4 305.0L205.2 307.5L206.8 312.5L210.6 317.5L210.6 325.0L207.5 327.3L197.5 324.5L195.0 325.1L194.5 327.5L196.2 332.5L196.3 345.0L197.5 346.6L200.0 346.6L212.5 341.4L215.0 341.9L217.5 343.8L220.6 347.5L223.2 355.0L224.4 365.0L227.5 368.7L232.8 372.5L233.6 375.0L233.1 377.5L230.0 380.6L227.5 381.2L222.5 381.2L215.0 378.8L210.0 378.8L207.5 379.4L197.2 385.0L181.8 407.5L179.4 412.5L181.2 420.0L181.2 432.5L177.8 442.5L167.5 448.0L165.0 447.7L161.9 442.5L160.0 434.8L155.0 433.8L150.0 436.3L146.9 440.0L146.4 442.5L147.4 450.0L146.7 455.0L147.2 460.0L144.2 472.5L142.5 474.2L135.0 473.9L131.0 475.0L131.4 482.5L132.5 485.2L135.0 486.1L145.0 483.1L155.0 470.9L156.9 465.0L160.0 461.4L162.5 460.3L170.0 464.8L172.5 464.2L190.0 452.8L192.5 454.2L193.6 457.5L190.2 465.0L191.8 470.0L194.1 472.5L197.5 473.7L217.5 473.4L219.1 472.5L220.4 470.0L216.3 455.0L216.9 450.0L220.0 446.8L227.5 443.2L232.5 439.4L235.0 438.9L242.5 442.0L247.5 448.9L260.0 459.3L267.1 472.5L272.5 476.3L280.7 485.0L285.7 495.0L286.9 500.0L290.0 503.1L295.0 503.7L300.0 503.1L307.5 496.8L315.0 493.8L327.5 494.4L335.0 498.8L340.6 505.0L340.6 510.0L328.4 525.0L322.5 526.2L312.5 525.1L297.5 529.4L292.5 532.1L282.5 543.8L272.5 551.3L269.4 555.0L268.8 565.0L273.7 577.5L273.8 595.0L275.0 598.4L280.3 602.5L287.5 612.2L290.0 611.8L292.5 609.4L295.0 608.9L305.0 608.9L312.5 612.0L315.0 615.0L312.5 615.8L307.5 614.1L302.5 613.6L297.5 614.3L295.0 615.6L290.0 615.1L281.9 625.0L280.2 640.0L281.4 642.5L285.0 645.6L292.5 648.2L307.5 648.8L317.5 652.2L321.3 657.5L332.5 668.2L340.0 671.2L345.0 671.8L347.5 671.0L348.7 680.0L347.5 685.2L345.0 686.1L330.0 686.3L326.0 687.5L325.9 690.0L330.7 702.5L331.9 712.5L336.8 722.5L339.1 725.0L347.7 727.5L348.6 730.0L348.9 745.0L350.0 747.7L352.5 748.6L382.5 748.8L387.5 749.8L388.7 752.5L388.7 762.5L387.0 770.0L387.8 772.5L392.5 779.5L407.5 773.9L410.0 774.4L420.3 782.5L424.8 792.5L423.1 800.0L408.8 812.5L406.9 815.0L406.7 817.5L407.5 818.3L410.0 818.6L420.0 815.2L432.1 807.5L433.6 805.0L436.9 785.0L440.0 781.3L445.0 778.8L450.9 780.0L455.0 784.1L464.1 797.5L472.5 801.8L477.0 807.5L480.0 809.0L485.4 807.5L494.7 800.0L497.5 799.8L502.5 804.2L512.5 803.8L527.5 804.5L535.0 807.0L545.2 812.5L547.3 820.0L545.4 832.5L536.7 845.0L530.0 858.3L521.1 867.5L513.8 872.5L505.7 880.0L501.7 885.0L501.1 887.5L503.2 890.0L522.5 901.3L529.3 907.5L537.5 911.6L545.0 919.3L552.7 930.0L555.3 940.0L549.3 947.5L546.4 960.0L549.3 972.5L551.8 980.0L558.0 992.5L560.5 1000.0L561.8 1010.0L564.5 1015.0L570.0 1017.0L595.0 1018.7L596.4 1020.0L596.5 1022.5L595.0 1024.0L557.5 1026.9L555.0 1027.6L552.7 1030.0L552.4 1035.0L90.0 1035.0ZM165.0 324.4L161.8 327.5L159.3 332.5L157.0 337.5L157.4 340.0L177.5 345.7L182.5 346.2L190.0 347.4L190.7 345.0L182.5 331.6L178.4 327.5L172.5 324.4ZM170.0 227.1L167.0 230.0L167.4 232.5L170.0 234.0L172.5 233.9L173.6 230.0L172.5 227.4ZM225.0 778.5L223.3 780.0L223.4 782.5L225.0 785.9L227.5 788.1L230.0 788.6L232.5 787.7L233.6 785.0L232.5 781.6L230.0 778.9L227.5 777.7ZM320.0 801.8L302.5 806.8L296.6 810.0L292.7 815.0L296.8 827.5L299.4 832.5L301.8 835.0L307.5 837.9L310.0 838.0L325.0 830.7L330.0 825.8L333.4 820.0L333.7 807.5L332.5 804.1L330.0 801.9L327.5 801.3ZM387.5 782.0L386.4 785.0L386.4 802.5L386.6 815.0L387.6 817.5L389.0 815.0L391.1 805.0L391.1 787.5L390.3 782.5ZM442.5 849.4L439.5 852.5L439.9 855.0L455.0 859.7L460.0 868.8L462.5 868.1L463.6 865.0L463.1 857.5L461.2 855.0L457.5 851.8L452.5 849.4L447.5 848.8ZM465.0 909.4L457.2 915.0L455.2 927.5L455.8 930.0L457.5 933.4L462.5 938.1L475.0 938.2L477.5 937.0L483.1 930.0L483.7 925.0L483.1 917.5L477.5 911.9L470.0 909.4ZM387.3 245.0L388.9 247.5L388.6 250.0L387.5 252.6L385.0 252.9L382.0 250.0L382.4 247.5ZM382.3 482.5L387.5 481.3L390.9 482.5L393.1 485.0L393.6 487.5L392.7 490.0L387.5 491.2L384.1 490.0L381.9 487.5L381.4 485.0ZM378.8 560.0L382.5 557.8L386.2 560.0L390.7 567.5L394.2 577.5L394.8 580.0L392.8 585.0L387.5 586.2L382.5 585.6L375.0 580.3L371.9 575.0L371.9 570.0L374.3 565.0ZM411.3 580.0L415.0 578.9L417.5 579.4L427.5 583.7L445.0 583.8L452.5 586.8L476.2 605.0L483.2 617.5L486.1 625.0L483.1 637.5L478.2 647.5L470.0 655.7L460.0 659.4L457.5 661.6L455.6 670.0L452.5 675.2L450.0 675.5L435.0 668.8L427.5 669.4L424.4 672.5L424.4 677.5L427.3 685.0L426.0 692.5L450.0 699.4L458.7 707.5L461.2 712.5L460.6 717.5L453.4 727.5L447.5 730.6L440.0 731.9L427.5 738.8L420.3 747.5L417.5 748.7L397.5 748.7L394.7 747.5L391.2 742.5L387.5 739.3L368.6 730.0L369.0 727.5L377.5 720.9L385.6 710.0L386.2 702.5L385.6 695.0L373.8 685.0L367.5 674.7L352.5 664.0L350.0 663.5L347.5 666.3L344.5 662.5L344.0 660.0L344.7 657.5L350.0 652.2L370.0 648.1L375.0 644.4L387.5 642.8L398.9 630.0L399.9 627.5L399.4 625.0L394.7 617.5L391.4 610.0L391.9 600.0L394.3 595.0L397.5 591.2L406.6 582.5ZM327.1 625.0L327.5 624.3L330.5 625.0L327.5 625.7ZM494.2 675.0L497.5 674.4L502.5 676.8L510.0 683.0L522.5 680.6L532.5 676.3L537.5 676.9L540.0 679.1L543.7 692.5L543.7 720.0L542.5 723.8L540.0 723.5L536.8 720.0L533.7 715.0L518.8 700.0L515.0 694.2L512.5 692.8L505.0 698.1L497.5 700.6L484.7 697.5L481.9 692.5L482.0 690.0L490.0 679.1ZM514.9 755.0L517.5 754.0L522.5 754.5L524.8 757.5L524.0 760.0L522.5 761.7L517.5 760.7L514.5 757.5Z" fill="#23867e" fill-rule="evenodd"/>
<path d="M176.3 190.0L201.2 190.0L201.2 202.5L200.0 206.1L195.0 209.0L192.5 209.5L179.4 207.5L176.5 205.0ZM191.0 212.5L192.5 210.8L195.0 211.6L198.7 222.5L198.7 230.0L198.2 235.0L191.3 255.0L191.3 262.5L193.1 270.0L190.6 280.0L187.5 283.1L185.0 283.7L177.5 283.7L170.0 281.3L165.0 281.3L162.5 281.9L158.9 285.0L157.8 287.5L158.9 290.0L165.0 296.2L173.7 302.5L176.0 305.0L176.6 307.5L170.0 313.2L162.5 316.8L152.5 324.1L146.9 332.5L146.3 340.0L150.0 347.8L157.5 350.7L165.0 351.8L177.5 355.7L187.5 357.2L195.5 372.5L195.2 375.0L187.5 380.7L182.5 383.1L175.0 381.2L174.2 382.5L174.9 390.0L171.3 402.5L171.3 420.0L173.3 427.5L172.5 428.9L167.5 428.2L152.5 421.3L147.5 421.8L142.5 423.7L125.0 423.9L122.3 425.0L121.4 427.5L121.3 432.5L121.9 435.0L124.1 437.5L132.5 439.3L140.2 442.5L141.2 447.5L140.6 452.5L135.0 460.9L132.5 463.2L122.5 467.1L118.5 472.5L110.0 476.0L90.0 476.3L90.0 226.2L115.0 226.2L117.5 225.5L122.5 221.1L140.0 220.8L155.0 228.7L166.7 240.0L172.5 242.8L177.5 243.1L180.7 240.0L183.6 232.5L179.4 222.5L178.9 217.5L179.8 215.0L182.5 213.8ZM223.8 497.5L227.5 496.3L235.0 496.9L242.5 503.2L255.0 510.6L260.0 510.6L267.5 505.2L275.0 506.8L285.0 510.7L295.0 511.9L298.0 515.0L298.1 517.5L295.7 522.5L287.5 532.5L281.4 537.5L277.5 540.6L270.0 541.8L267.5 543.2L255.0 543.7L224.1 532.5L218.8 527.5L215.0 522.2L208.8 517.5L207.0 515.0L206.9 512.5L210.0 504.7L217.5 499.4ZM139.0 500.0L142.5 499.8L144.2 502.5L146.2 507.5L146.3 512.5L145.6 517.5L141.9 522.5L140.0 531.7L138.9 532.5L142.5 533.5L157.5 534.4L167.5 541.3L187.5 561.6L193.1 570.0L194.3 577.5L196.9 585.0L207.5 594.1L209.4 600.0L218.1 612.5L219.4 627.5L225.6 635.0L226.8 640.0L232.5 650.9L235.0 653.1L237.5 653.7L282.5 654.3L290.0 656.8L292.5 658.5L297.5 664.1L298.7 667.5L298.7 682.5L296.3 690.0L296.2 700.0L293.2 707.5L290.0 711.2L287.5 713.0L285.0 713.1L260.0 701.3L250.0 701.9L246.9 705.0L246.4 707.5L249.7 715.0L257.8 720.0L261.9 727.5L275.0 745.0L280.0 748.6L285.0 748.9L287.7 750.0L288.6 752.5L288.8 762.5L290.7 767.5L291.2 772.5L287.5 780.9L280.0 788.1L257.5 795.5L255.0 795.2L248.7 785.0L240.0 777.8L236.2 772.5L230.0 766.3L222.5 761.9L220.0 762.0L210.0 768.8L202.5 776.6L199.5 787.5L199.9 790.0L225.0 798.7L247.5 798.8L250.0 799.7L253.2 805.0L254.4 810.0L262.5 819.1L266.8 827.5L271.6 832.5L280.0 836.1L282.5 835.3L287.5 829.5L290.0 829.4L295.0 832.2L299.7 837.5L313.7 850.0L317.5 855.9L322.5 861.2L325.0 863.5L327.5 863.8L331.2 850.0L332.1 830.0L337.5 822.0L347.7 817.5L348.6 815.0L348.8 792.5L349.7 790.0L357.5 785.3L360.0 781.7L362.5 780.2L368.4 782.5L375.6 790.0L376.3 800.0L381.8 820.0L385.0 823.8L387.5 824.4L392.5 817.6L395.0 816.9L397.5 820.3L407.5 822.4L417.5 819.7L429.7 812.5L440.0 808.2L445.0 804.4L447.5 803.8L455.0 804.4L462.5 810.6L472.5 813.6L485.0 811.2L490.0 808.3L495.0 803.6L497.5 802.7L502.5 807.2L510.0 806.1L525.0 806.3L535.0 809.5L542.5 813.3L544.8 817.5L545.3 820.0L542.9 832.5L534.2 845.0L527.5 858.0L518.0 867.5L512.5 870.8L500.0 881.5L492.5 885.6L485.0 886.1L482.3 885.0L481.2 882.5L480.6 872.5L470.7 852.5L460.0 841.8L447.5 836.3L440.0 836.3L430.0 839.7L422.8 852.5L417.5 856.3L412.5 861.9L410.7 860.0L407.5 859.5L399.4 865.0L398.7 867.5L410.0 869.3L412.5 868.5L415.0 875.2L422.7 877.5L424.4 885.0L426.3 887.5L430.0 890.7L440.0 896.5L441.1 900.0L438.8 907.5L438.2 915.0L436.3 920.0L436.2 930.0L435.1 935.0L439.3 950.0L442.5 955.3L445.0 956.1L447.5 955.6L477.5 941.4L485.0 936.9L490.0 936.3L495.0 938.2L500.0 938.7L510.0 935.6L515.6 930.0L516.9 920.0L522.5 912.2L527.5 911.4L535.0 912.6L542.5 919.5L545.7 925.0L550.3 930.0L552.9 937.5L552.8 940.0L546.9 947.5L544.0 960.0L546.9 972.5L549.4 980.0L555.5 992.5L558.7 1002.5L559.4 1010.0L561.8 1015.0L565.0 1018.0L567.5 1018.8L594.5 1020.0L595.0 1022.5L560.0 1024.1L552.5 1025.3L548.6 1027.5L547.6 1035.0L163.7 1035.0L163.7 1032.5L161.9 1030.0L153.3 1027.5L142.5 1026.4L107.5 1026.1L104.8 1025.0L103.9 1020.0L104.8 1017.5L107.5 1016.4L177.5 1016.2L182.5 1015.2L183.6 1012.5L183.1 1005.0L180.0 1001.9L175.0 1000.7L169.1 997.5L166.8 995.0L161.9 985.0L161.2 970.0L161.8 967.5L167.5 959.1L180.0 949.2L190.0 945.2L191.1 942.5L190.6 940.0L188.4 937.5L182.5 934.4L172.5 936.9L161.8 947.5L159.4 952.5L158.2 960.0L150.3 972.5L142.5 975.6L140.0 975.5L126.9 965.0L126.3 960.0L126.9 952.5L135.1 942.5L130.0 940.3L125.7 935.0L122.5 934.8L118.7 940.0L110.0 948.7L105.0 952.0L102.9 950.0L100.0 940.6L97.5 938.8L90.0 938.8L90.0 888.8L97.5 888.8L100.0 890.6L102.5 899.2L104.7 912.5L110.0 913.6L112.7 912.5L118.2 900.0L119.4 895.0L125.0 886.6L127.5 884.4L132.5 883.2L137.5 880.3L140.6 875.0L141.1 872.5L133.2 847.5L125.7 835.0L120.0 828.8L107.5 821.9L103.8 822.5L100.0 826.0L90.0 826.2L90.0 651.2L107.5 651.2L111.0 650.0L112.5 648.1L113.5 642.5L113.7 625.0L113.3 605.0L110.0 590.6L107.5 588.8L90.0 588.8L90.0 501.2L107.5 501.3L111.0 502.5L113.2 507.5L113.9 530.0L114.8 532.5L117.5 533.6L125.0 533.7L131.1 532.5L130.0 531.7L128.8 527.5L129.4 507.5L134.1 502.5ZM200.0 612.1L197.5 612.7L197.0 615.0L199.4 622.5L204.1 627.5L207.5 628.5L210.1 627.5L210.5 625.0L207.5 619.1ZM217.5 939.4L214.4 942.5L214.4 947.5L217.5 950.6L222.5 950.6L225.6 947.5L226.1 942.5L225.2 940.0L222.5 938.9ZM222.5 889.9L220.9 895.0L221.5 897.5L225.0 899.6L252.5 899.6L257.9 897.5L261.2 895.0L261.5 892.5L260.0 890.0L257.5 889.4L227.5 888.8ZM287.5 952.0L281.9 957.5L281.9 965.0L290.0 973.7L297.5 979.1L299.4 990.0L302.5 992.3L307.8 990.0L308.7 987.5L308.6 980.0L307.5 977.3L302.5 975.6L297.5 970.9L294.3 962.5L293.1 955.0L290.0 952.0ZM335.0 967.0L329.4 972.5L329.4 977.5L331.8 982.5L338.1 990.0L341.9 1002.5L345.0 1006.0L347.5 1006.7L350.0 1004.8L352.5 1004.5L360.0 1006.2L375.0 1006.1L380.0 1005.0L376.7 1000.0L387.5 988.8L397.5 981.2L400.6 977.5L401.5 972.5L400.2 970.0L390.0 971.3L385.0 973.2L377.5 974.3L370.0 976.9L362.5 983.1L352.5 986.1L350.0 985.2L348.9 982.5L348.7 975.0L347.5 971.6L345.0 969.4L337.5 966.9ZM385.0 906.0L379.4 925.0L381.9 940.0L384.7 945.0L390.0 948.2L405.0 952.3L407.5 951.1L410.6 947.5L413.7 937.5L413.2 932.5L410.6 925.0L398.4 912.5L390.0 906.8ZM425.0 989.9L424.0 992.5L424.4 995.0L427.5 998.0L430.0 998.0L432.2 995.0L431.1 992.5L427.5 989.5ZM130.0 584.4L124.7 587.5L123.8 590.0L123.7 597.5L121.4 605.0L123.7 612.5L124.4 630.0L134.1 640.0L142.5 645.7L152.5 650.6L162.5 652.3L168.3 650.0L162.5 645.3L161.5 642.5L162.5 639.9L165.0 639.5L170.0 641.2L175.0 640.7L180.8 637.5L182.3 635.0L181.7 632.5L180.0 629.7L170.0 627.6L157.5 630.6L150.0 626.2L145.0 620.9L141.9 615.0L140.7 607.5L138.8 602.5L138.1 590.0L133.3 585.0ZM140.0 794.4L131.9 802.5L131.9 807.5L134.3 812.5L137.5 815.7L142.5 818.1L152.5 818.7L155.3 817.5L157.5 813.7L160.6 807.5L160.5 805.0L152.5 796.8L145.0 793.8ZM184.4 500.0L187.5 497.8L190.0 498.9L197.5 506.6L198.7 510.0L198.7 530.0L195.7 537.5L193.3 540.0L190.0 540.5L187.5 538.7L180.0 530.9L178.8 527.5L179.4 522.5L183.7 512.5ZM158.9 505.0L162.5 504.5L164.7 507.5L157.5 522.5L155.0 522.5L151.3 512.5L151.8 510.0L154.1 507.5ZM241.8 600.0L242.5 598.8L245.0 599.6L245.3 602.5L242.5 603.7ZM426.6 610.0L430.0 608.9L433.4 610.0L435.6 612.5L436.2 617.5L433.8 625.0L433.1 635.0L425.3 647.5L422.5 648.6L417.5 648.1L414.4 645.0L413.8 640.0L415.6 632.5L414.3 630.0L413.9 625.0L414.7 622.5L421.2 617.5ZM252.3 627.5L257.5 626.3L260.0 626.9L262.5 629.1L263.7 632.5L262.5 637.8L257.5 640.6L255.0 640.5L252.5 638.4L251.3 632.5ZM449.9 632.5L455.0 631.3L460.0 632.3L461.0 635.0L460.2 637.5L457.5 638.6L452.5 638.1L449.5 635.0ZM409.3 662.5L412.6 662.5L413.6 667.5L412.5 670.2L410.0 671.0L405.9 670.0L405.4 667.5ZM393.8 665.0L397.5 663.9L400.0 664.4L404.4 667.5L404.7 670.0L400.2 682.5L397.5 683.6L394.1 682.5L382.4 675.0L382.5 672.4ZM443.7 710.0L447.5 709.0L450.0 709.9L450.8 712.5L450.0 713.8L447.5 714.0L444.4 712.5ZM401.6 717.5L405.0 716.3L412.5 716.9L420.0 721.6L422.3 727.5L420.0 731.2L415.0 734.3L410.0 736.2L405.0 736.2L401.6 735.0L397.5 730.9L396.3 727.5L396.9 722.5ZM441.6 867.5L447.5 866.3L450.0 866.9L453.0 870.0L453.0 872.5L450.7 880.0L445.0 890.9L442.5 893.2L440.0 893.9L437.5 891.6L436.6 890.0L435.7 880.0L433.9 875.0L435.0 872.2ZM466.6 880.0L470.0 878.8L475.2 880.0L476.3 885.0L475.6 887.5L473.3 890.0L470.0 890.5L465.0 885.8L464.5 882.5ZM496.7 897.5L502.5 896.3L510.0 899.7L511.2 905.0L510.0 908.4L507.5 910.5L505.0 910.6L499.1 907.5L495.8 902.5L495.2 900.0Z" fill="#015349" fill-rule="evenodd"/>
<path d="M123.8 225.0L132.5 224.3L140.5 225.0L154.1 232.5L162.5 240.9L180.3 252.5L181.2 257.5L180.6 270.0L177.5 273.1L175.0 273.7L167.5 273.1L162.5 270.7L154.1 265.0L143.4 255.0L140.0 253.8L132.5 253.8L125.0 253.8L121.2 255.0L120.7 270.0L120.0 273.1L117.5 276.0L90.0 276.2L90.0 251.3L117.5 251.0L120.2 247.5L122.2 227.5ZM122.3 297.5L127.5 296.3L140.0 296.9L147.6 302.5L147.6 305.0L145.0 306.7L135.0 311.2L125.0 311.1L122.5 310.2L121.3 305.0ZM90.0 352.5L90.0 351.2L117.5 351.5L120.0 354.4L122.5 360.4L125.0 361.2L142.5 361.3L152.5 364.8L153.6 367.5L153.7 387.5L152.5 390.9L147.5 395.7L135.0 400.7L122.5 402.7L115.0 401.3L90.0 401.2ZM271.6 517.5L275.0 516.4L277.5 516.9L282.8 520.0L283.6 522.5L283.1 525.0L280.0 528.7L277.5 530.6L275.0 531.1L272.5 530.6L270.0 528.4L268.8 522.5L269.4 520.0ZM266.3 662.5L270.0 661.3L275.0 661.3L287.5 661.5L290.0 662.5L291.1 665.0L291.2 675.0L288.8 682.5L288.1 690.0L285.0 695.2L281.4 695.0L275.0 693.2L264.1 687.5L260.0 683.4L254.3 675.0L252.7 670.0L254.2 667.5L260.0 664.3ZM166.4 665.0L170.0 664.5L177.5 671.1L180.0 672.3L187.5 669.4L192.5 668.8L205.9 675.0L208.1 677.5L209.7 690.0L215.0 693.8L218.1 697.5L219.7 705.0L235.0 714.3L251.6 727.5L262.5 734.6L267.5 740.0L276.0 752.5L273.1 762.5L270.0 766.2L267.5 768.1L257.5 770.6L252.5 768.2L249.4 765.0L245.2 750.0L242.5 748.9L192.5 748.8L150.0 748.7L147.5 748.1L137.5 741.9L135.0 741.4L132.5 741.7L130.2 747.5L127.5 748.6L107.5 748.0L100.0 751.0L90.0 751.2L90.0 701.2L110.0 701.5L114.2 707.5L117.5 709.7L120.0 712.8L123.8 715.0L135.0 718.1L140.0 718.1L143.0 715.0L143.0 712.5L138.9 707.5L145.0 704.4L152.5 703.1L157.8 700.0L158.7 697.5L158.8 682.5L159.9 677.5L158.5 667.5ZM114.8 682.5L117.5 681.4L120.0 681.9L125.0 686.6L126.1 690.0L125.6 692.5L123.7 695.0L120.0 698.1L117.5 698.6L113.7 697.5L113.8 685.0ZM207.3 810.0L210.0 809.5L213.7 812.5L215.6 815.0L216.9 820.0L220.0 823.1L222.5 823.6L227.5 822.7L237.5 827.2L241.2 835.0L240.6 840.0L231.8 852.5L226.8 862.5L225.6 867.5L219.4 877.5L217.6 887.5L217.8 897.5L219.2 900.0L222.5 902.2L252.5 902.7L265.0 897.9L267.5 899.5L276.0 890.0L276.3 887.5L272.5 886.3L255.0 885.2L249.5 880.0L249.5 877.5L254.7 870.0L265.0 864.5L267.6 865.0L270.0 870.6L275.0 870.2L280.0 873.0L282.5 873.0L295.0 864.4L310.0 862.7L312.5 863.9L325.0 875.5L327.5 875.5L335.0 869.3L340.0 867.7L347.5 872.2L355.0 881.7L355.6 885.0L353.8 890.0L353.1 897.5L349.4 902.5L348.8 905.0L348.7 925.0L347.5 930.6L345.0 931.3L338.7 940.0L335.0 943.1L322.5 946.2L312.5 946.2L308.8 945.0L305.0 942.8L303.8 940.0L303.8 925.0L305.5 920.0L305.0 916.3L302.5 916.9L300.0 920.4L287.5 924.8L285.3 935.0L280.0 938.8L269.4 950.0L268.9 952.5L271.2 960.0L270.6 975.0L267.5 980.3L260.0 981.2L255.0 978.7L249.4 972.5L248.1 952.5L241.8 945.0L235.0 931.6L225.0 921.9L215.0 921.3L202.5 925.7L187.5 927.4L175.0 926.2L165.0 923.1L155.0 913.4L151.9 902.5L151.9 897.5L154.3 892.5L160.6 885.0L163.2 877.5L163.7 872.5L161.8 867.5L160.6 860.0L154.4 850.0L153.9 845.0L154.9 842.5L157.5 842.0L167.5 844.4L185.0 853.1L187.5 853.0L198.6 840.0L199.7 837.5L194.5 830.0L194.5 827.5L202.5 820.9L204.3 815.0ZM447.4 812.5L450.0 812.0L455.0 814.3L465.0 820.6L477.5 823.6L490.0 820.6L497.5 816.9L510.0 816.2L517.5 813.8L525.0 813.8L530.0 815.7L540.0 817.0L541.9 820.0L540.2 827.5L527.5 834.7L523.8 842.5L523.1 847.5L518.4 855.0L507.5 859.7L503.7 865.0L500.0 868.1L492.5 870.6L487.5 870.6L484.5 867.5L483.9 865.0L483.7 852.5L482.5 849.1L477.5 844.3L457.5 833.2L451.3 827.5L446.9 820.0L446.4 815.0ZM376.3 845.0L380.0 842.7L385.0 844.8L385.5 847.5L382.5 851.2L380.0 853.0L377.5 853.0L375.0 850.7L374.5 847.5ZM349.1 940.0L350.0 938.5L352.5 938.5L355.1 940.0L355.0 943.2L352.5 946.0L350.0 946.3L349.2 945.0ZM184.0 952.5L190.0 951.3L202.5 951.9L205.7 955.0L208.1 960.0L209.8 970.0L208.6 972.5L200.0 980.6L192.5 982.4L180.0 980.6L170.0 975.3L167.0 970.0L167.2 967.5L172.1 960.0ZM139.4 955.0L142.5 952.8L145.6 955.0L146.2 960.0L145.0 963.4L142.5 965.5L139.8 965.0L137.7 960.0ZM479.1 972.5L482.5 971.4L490.0 973.7L510.0 973.7L517.5 971.3L522.5 971.3L527.5 973.8L530.7 977.5L538.2 992.5L543.6 1012.5L542.7 1015.0L540.0 1016.1L530.0 1016.3L475.0 1016.2L469.1 1015.0L466.8 1012.5L461.9 1002.5L461.9 995.0L467.5 984.1ZM474.2 1027.5L490.0 1026.3L525.0 1027.0L535.2 1030.0L536.0 1035.0L527.5 1035.0L463.8 1035.0L463.8 1032.5L465.6 1030.0Z" fill="#003c30" fill-rule="evenodd"/>
</g>
<g clip-path="url(#cf)">
<path d="M309.5 100.0L309.5 129.2L310.3 130.5L308.2 207.6M20.0 242.1L24.0 238.6L30.6 239.4L37.3 240.2L43.9 236.8L51.9 236.0L53.2 237.6L59.8 235.5L61.7 240.8L61.2 248.7L65.2 253.3L67.8 250.9L73.1 250.1L74.4 245.6L79.8 243.4L81.1 230.1L110.3 230.9L109.8 245.6L115.1 246.1L115.1 266.8L120.4 267.3L120.4 271.3L130.2 271.8M130.2 360.8L357.3 368.3M591.3 100.0L591.3 110.6M551.8 206.2L551.8 214.7M399.3 215.5L398.5 293.4L389.2 293.9L388.4 305.0L379.9 305.3L376.7 369.6M354.7 368.8L376.7 369.6L438.3 370.9L438.3 432.0M437.8 397.5L394.5 396.9L393.2 431.5L375.9 432.0L375.4 445.3M426.4 445.3L426.4 432.0L500.8 432.8L536.6 433.3L559.2 435.2L568.5 445.3M531.3 433.3L531.8 445.3M467.6 216.9L468.9 224.8L474.2 230.1L480.8 232.8L486.1 238.1L494.1 238.1L499.4 244.8L502.1 254.1L498.1 264.7L495.4 280.6L491.5 293.9L494.1 307.2L498.1 320.5L499.4 331.1L504.7 340.4L515.4 341.7L523.3 335.9L528.6 344.4L539.3 347.0L545.9 345.7L552.5 349.7L557.9 345.7L565.8 352.3L573.8 349.7L581.8 348.3L595.0 345.7L605.7 347.0L611.0 339.0L615.0 331.1L616.3 323.1L621.6 320.5L617.6 312.5L611.0 296.5L603.0 278.0L595.0 262.0L587.1 248.7L579.1 235.5L572.5 224.8L570.6 218.2M499.4 331.1L500.8 348.3L501.6 432.5M621.6 320.5L628.2 323.1L628.2 333.7L634.9 344.4L642.9 355.0L648.2 365.6L654.8 366.9L693.3 366.4M653.5 366.9L649.5 378.9L656.1 392.2L653.5 405.4L648.2 416.1L646.8 432.0L693.3 432.0M646.8 432.0L644.2 445.3M711.4 100.0L711.4 110.6M711.4 206.2L711.4 215.5M806.2 102.7L896.5 102.7M1001.4 100.0L1001.4 134.5L1000.1 135.9L1001.4 206.2L1001.4 214.7M1001.4 126.6L1029.3 126.0M762.4 219.5L762.4 348.3L745.1 349.1L745.1 445.3M690.7 366.4L745.1 365.6M972.2 218.2L972.2 275.3L971.4 276.1L972.2 312.0M885.4 313.3L989.5 311.7L991.6 417.4L885.4 417.9L885.4 313.3M989.5 329.0L1029.3 327.9M745.1 418.7L885.4 417.9M954.4 417.9L955.5 445.3M690.7 436.8L727.9 436.8L731.8 441.3L735.8 429.3L741.1 432.0L745.1 422.7L754.4 418.7L759.7 410.8L759.7 417.4M795.6 445.3L796.9 438.6L806.2 437.3L815.5 439.4L815.5 445.3M1006.7 127.4L1112.9 124.7M1112.4 100.0L1112.9 131.9L1116.9 133.7L1118.2 202.3L1117.4 203.6L1117.4 211.6M1118.2 168.3L1201.9 165.6M1201.9 130.5L1204.5 208.9M1201.9 130.5L1322.7 126.6M1211.2 100.0L1212.5 129.2M1299.6 100.0L1300.2 126.6M1321.4 126.6L1324.1 196.9M1205.1 208.9L1324.9 205.4M1207.2 271.3L1324.9 266.8M1315.3 267.3L1318.2 337.2M1210.4 341.7L1324.9 337.2M1321.4 337.7L1324.1 407.6M1310.8 410.2L1312.1 445.3M1112.9 215.5L1114.2 271.3L1112.9 272.6L1113.7 325.8M1114.2 263.9L1205.9 260.7M1006.7 329.0L1095.6 327.1L1207.2 323.6M1095.6 327.1L1096.4 343.0L1094.6 344.4L1095.6 445.3M20.0 508.7L111.6 513.3L114.3 507.4L119.6 506.6M20.0 702.6L111.6 707.4M124.9 473.7L146.2 474.7L147.0 477.4L199.3 479.0L200.1 470.8L296.2 472.4L297.0 447.7L357.3 447.1M122.3 533.2L357.3 541.1M119.6 707.9L218.7 711.9L220.5 678.7L221.3 645.5L253.7 633.6L261.7 628.3L267.0 621.6L268.3 615.0L281.6 603.0L305.5 598.5L320.1 604.4L328.1 596.4L338.7 588.4L346.7 579.1L357.3 576.5M220.5 678.7L357.3 681.9M256.4 747.8L334.7 749.9L336.1 755.2L357.3 755.8M336.1 755.2L342.7 769.0L344.6 790.3M256.4 747.8L260.4 751.8L261.7 762.4L275.0 763.7L279.0 767.7L285.6 770.4L285.6 782.3L282.9 790.3M111.6 777.5L285.6 784.4M356.0 449.0L375.9 449.0L375.9 445.0M425.6 445.0L422.9 542.7M354.7 541.9L422.9 542.7L530.0 545.9L534.0 542.7L541.9 547.3L552.5 548.1L560.5 543.8L575.1 543.8L589.7 547.3L604.3 536.6L611.0 527.3L621.6 514.1L624.3 506.6L693.3 506.1M530.0 445.0L539.3 460.9L552.5 475.5L565.8 487.5L569.8 494.1L565.8 506.1L560.5 510.1L559.2 524.7L563.2 535.3L564.5 543.3M565.8 445.0L579.1 450.3L587.1 463.6L592.4 476.9L600.4 480.9L609.7 479.5L617.6 460.9L645.5 450.3L646.8 445.0M646.8 449.0L661.4 455.6L672.1 466.2L693.3 470.2M609.7 479.5L611.0 484.8L621.6 490.2L632.2 495.5L624.3 506.6M373.3 543.3L368.0 552.6L375.9 557.9L379.9 563.2L382.6 575.1L393.2 583.1L395.8 591.1L427.7 593.7L441.0 605.7L443.6 612.3L456.9 620.3L460.9 617.6L464.9 623.0L471.5 623.0L479.5 608.3L488.8 608.3L500.8 619.0L515.4 628.3L526.0 636.2L539.3 636.2L545.1 641.5L539.3 649.5L531.3 656.2L530.0 677.4L524.7 680.1L531.3 692.0L539.3 705.3L540.6 718.6L549.9 729.2L556.5 735.8M373.3 565.8L361.3 571.2L360.0 657.5L357.3 755.8L354.7 756.3M530.0 545.9L519.3 556.6L518.0 575.1L508.7 587.1L507.4 599.1L503.4 607.0L502.1 619.0M503.4 607.0L565.8 608.3M575.1 543.8L568.5 556.6L569.8 577.8L565.8 596.4L568.5 608.3L568.5 615.0L576.5 623.0L581.8 630.9L592.4 632.3L600.4 641.5L607.0 649.5L609.7 660.1L603.0 681.4L693.3 682.2M603.0 681.4L611.0 692.0L613.6 705.3L609.7 719.9L603.0 721.2L593.7 731.9L587.1 729.2L583.1 735.8M435.7 734.5L583.1 736.4M435.7 734.5L435.2 790.3M593.7 731.9L608.3 747.8L621.6 763.7L626.9 769.6L693.3 769.6M626.9 769.6L637.5 782.3L642.9 790.3M745.9 445.0L745.9 506.6M745.9 461.5L765.0 462.3L771.7 457.0L785.0 459.6L794.3 460.9L795.1 466.2L785.0 467.6L771.7 471.6L774.3 479.5L769.0 484.8L777.0 488.8L771.7 494.1L767.7 494.9L766.4 488.8L753.1 484.8L749.1 492.8L738.5 494.1L745.1 496.0M786.3 459.6L786.3 450.3L794.3 449.0L794.3 445.0M794.3 455.1L813.6 454.3L814.2 445.0M771.7 471.6L955.5 470.8M955.5 445.0L955.5 505.6L954.9 646.9L903.7 646.9M745.9 506.6L955.5 505.6L1029.3 504.0M745.9 506.6L741.1 516.7L734.5 524.7L727.9 536.6L726.5 551.2L718.6 567.2L711.9 575.1L707.9 585.8L702.6 593.7M692.8 445.0L692.8 593.7M690.7 595.1L903.2 595.1L904.5 717.2L904.5 790.3M806.7 506.6L806.7 595.1M702.1 595.1L702.1 682.2L690.7 682.2M702.1 682.2L715.9 682.7L715.9 692.0L763.7 691.5M749.1 595.1L749.9 647.4L743.0 648.2L742.5 661.5L763.7 662.3L763.7 717.2L763.2 770.4L690.7 769.6M763.7 717.2L904.5 716.4L989.5 715.9L1029.3 713.8M990.8 715.9L992.1 767.7L1029.3 766.4M992.1 767.7L992.1 786.3L973.5 787.6L973.5 790.3M1008.1 767.7L1008.6 790.3M746.4 770.4L746.4 790.3M1095.6 445.0L1097.5 502.1M1006.7 505.6L1097.5 502.1L1213.0 498.1M1042.0 505.6L1043.3 591.1L1042.5 592.4L1043.3 680.1L1042.5 681.4L1043.3 714.6L1006.7 715.9M1043.3 610.2L1216.5 604.4M1043.3 696.0L1219.7 691.5M1006.7 767.7L1112.9 765.1L1222.6 761.1M1112.9 765.1L1113.7 790.3M1008.8 767.7L1008.8 790.3M1216.0 499.4L1324.9 494.9M1312.1 445.0L1313.4 494.9M1317.4 496.0L1320.9 582.6M1219.7 587.1L1324.9 582.6M1307.3 583.6L1309.5 670.8M1222.6 674.0L1324.9 670.2M1296.7 672.1L1299.6 759.2M1225.3 762.4L1324.9 758.4M1303.6 759.7L1305.5 790.3M109.0 832.5L143.5 833.8L144.3 831.2L233.8 834.6L236.5 840.5L240.5 849.8L251.1 847.1L256.4 844.4L261.7 847.1L267.0 844.4L276.3 844.4L282.9 849.8L289.6 852.4L296.2 860.4L294.9 869.7L285.6 873.7L279.0 876.3L279.0 885.6L273.7 890.9L269.7 896.2L267.0 909.5L264.4 922.8L260.4 928.1L253.7 936.1L248.4 941.4L239.1 944.1L236.5 954.7L229.8 965.3L223.2 971.9L221.9 983.9L216.5 997.2L211.2 1006.5L207.3 1010.5M296.2 860.4L301.5 853.7L308.2 845.8L312.2 837.8L316.1 832.5L314.8 824.5L309.5 819.2L301.5 816.6L293.6 813.9L292.2 800.6L290.9 792.7L282.9 790.0M312.2 837.8L325.4 837.3L333.4 832.5L333.4 824.5L341.4 823.2L345.4 816.6L352.0 808.6L353.3 800.6L345.4 790.0M345.4 819.2L350.7 829.8L349.3 843.1L352.0 852.4L357.3 853.7M105.0 910.8L124.9 883.5L357.3 890.4M354.7 867.0L352.8 1018.4M325.4 1126.0L325.4 1135.3M434.4 790.0L434.4 827.2M412.3 831.2L419.7 827.7L427.7 829.8L434.4 827.2L441.0 824.0L447.6 827.2L452.9 828.5L458.3 836.5L467.6 841.8L478.2 844.4L483.0 846.3L483.0 854.5L500.8 854.5L500.8 871.8L587.1 872.9L681.4 872.9M412.3 831.2L410.4 884.3L412.3 885.6L411.8 941.4L478.2 942.2L479.5 890.9L483.0 846.3M354.7 934.2L411.8 935.6M356.0 853.7L360.0 859.6L358.1 865.7L356.0 867.0M478.2 942.2L483.0 941.4L587.1 942.7M483.0 941.4L483.5 975.4L495.4 982.6L498.1 994.5L514.0 1021.1M587.1 872.9L587.1 951.5L632.2 951.5L658.8 928.1L674.7 910.8L682.7 902.9L693.3 898.9M632.2 951.5L633.6 956.0L637.5 965.3L634.4 975.9L636.2 989.2L632.2 1002.5L629.6 1015.8L636.2 1022.4M645.5 790.0L650.8 800.6L658.8 816.6L662.8 829.8L674.7 839.1L678.7 844.4L693.3 841.8M678.7 844.4L684.0 853.7L685.3 864.4L681.4 872.9L677.4 883.0L674.7 896.2L676.1 906.9L681.4 906.9M356.0 1022.4L360.0 1021.1L357.3 1029.0L357.3 1038.3M591.1 1025.1L594.2 1038.3M600.4 1126.0L600.9 1135.3M746.4 790.0L746.4 840.5L751.8 846.3L810.2 842.6L858.0 859.6L904.5 875.5M690.7 841.0L704.0 836.5L707.9 841.8L715.9 831.2L725.2 819.2L730.5 823.2L735.8 832.5L746.4 840.5M858.0 859.6L843.4 872.3L834.1 888.3L824.8 906.9L814.2 920.1L803.6 925.5L802.2 936.1L792.9 942.7L771.7 946.2L758.4 946.7L745.1 956.0L729.2 965.8M904.5 790.0L904.5 893.6L1009.4 892.3L1029.3 891.7M1009.4 790.0L1009.9 892.3M904.5 793.2L912.5 792.7L923.1 795.8L940.3 798.0L973.5 798.0L974.1 790.0M690.7 896.8L705.3 892.3L714.6 897.6L723.9 898.9L719.9 906.9L725.2 914.8L726.5 930.8L731.8 941.4L727.9 946.7L728.7 965.8L729.2 1022.4M717.2 1026.4L715.9 1034.4L719.9 1042.3L717.2 1055.6L717.2 1078.2L707.9 1080.8L702.6 1082.2L697.3 1090.1L693.3 1094.1L696.0 1102.1L692.0 1114.0L700.0 1127.3L696.0 1135.3M915.1 1026.4L915.6 1135.3M1008.8 790.0L1010.1 892.3M1113.7 790.0L1114.8 853.7L1115.6 855.1L1115.6 889.6M1006.7 892.3L1062.4 891.5L1115.6 889.9L1227.1 886.9M1062.4 891.5L1063.8 942.7L1063.0 944.1L1063.8 1019.7M1304.1 790.0L1306.8 845.8L1309.5 847.1L1310.8 865.7L1313.4 934.8M1229.0 867.8L1324.9 865.2M1231.9 937.9L1324.9 934.8M1308.1 936.1L1311.6 1013.1M1234.3 1018.4L1235.1 1046.3L1234.3 1047.6L1237.2 1116.2M1216.0 1120.1L1217.0 1135.3M1303.6 1117.2L1304.7 1135.3M344.6 788.5L434.5 789.5" fill="none" stroke="#808080" stroke-width="1.3" stroke-linejoin="round"/>
<g fill="none" stroke="#000" stroke-width="3" stroke-linejoin="miter">
<path d="M-40.7 196.0L-19.6 197.2L1.5 198.4L22.6 199.5L43.7 200.6L64.8 201.7L85.9 202.7L107.0 203.7L128.1 204.6L149.2 205.6L170.4 206.5L191.5 207.3L212.6 208.2L233.7 209.0L254.8 209.7L275.9 210.5L297.0 211.2L318.1 211.8L339.3 212.5L360.4 213.1L381.5 213.7L402.6 214.2L423.7 214.7L444.9 215.2L466.0 215.6L487.1 216.0L508.2 216.4L529.4 216.8L550.5 217.1L571.6 217.3L592.7 217.6L613.9 217.8L635.0 218.0L656.1 218.1L677.2 218.2L698.4 218.3L719.5 218.4L740.6 218.4L761.7 218.4L782.9 218.3L804.0 218.3L825.1 218.1L846.2 218.0L867.4 217.8L888.5 217.6L909.6 217.4L930.8 217.1L951.9 216.8L973.0 216.4L994.1 216.1L1015.2 215.7L1036.4 215.2L1057.5 214.8L1078.6 214.3L1099.7 213.7L1120.9 213.2L1142.0 212.6L1163.1 211.9L1184.2 211.3L1205.3 210.6"/>
<path d="M135.0 204.9L92.1 1171.4"/>
<path d="M-86.7 1000.7L-65.1 1001.9L-43.6 1003.1L-22.0 1004.3L-0.5 1005.4L21.1 1006.5L42.7 1007.5L64.2 1008.6L85.8 1009.6L107.4 1010.5L129.0 1011.4L150.5 1012.3L172.1 1013.2L193.7 1014.0L215.3 1014.8L236.8 1015.6L258.4 1016.3L280.0 1017.0L301.6 1017.7L323.2 1018.4L344.7 1019.0L366.3 1019.5L387.9 1020.1L409.5 1020.6L431.1 1021.1L452.7 1021.5L474.3 1021.9L495.9 1022.3L517.4 1022.7L539.0 1023.0L560.6 1023.3L582.2 1023.5L603.8 1023.7L625.4 1023.9L647.0 1024.1L668.6 1024.2L690.2 1024.3L711.8 1024.4L733.4 1024.4L755.0 1024.4L776.5 1024.4L798.1 1024.3L819.7 1024.2L841.3 1024.1L862.9 1023.9L884.5 1023.7L906.1 1023.5L927.7 1023.2L949.3 1022.9L970.9 1022.6L992.5 1022.2L1014.1 1021.8L1035.6 1021.4L1057.2 1021.0L1078.8 1020.5L1100.4 1020.0L1122.0 1019.4L1143.6 1018.8L1165.2 1018.2L1186.7 1017.6L1208.3 1016.9L1229.9 1016.2L1251.5 1015.4L1273.1 1014.7L1294.6 1013.9L1316.2 1013.0L1337.8 1012.1L1359.4 1011.2L1380.9 1010.3L1402.5 1009.3"/>
<path d="M1205.3 210.6L1232.6 1016.1"/>
<path d="M898.0 217.5L896.1 56.3"/>
<path d="M1212.1 411.9L1235.4 411.1L1258.7 410.3L1281.9 409.4L1305.2 408.5L1328.4 407.5L1351.7 406.5L1375.0 405.5"/>
<path d="M1077.2 1020.5L1079.2 1121.3"/>
<path d="M1072.2 1122.5L1102.7 1121.8L1133.1 1121.0L1163.6 1120.2L1194.0 1119.2L1224.5 1118.3L1254.9 1117.2L1285.4 1116.1L1315.8 1115.0L1346.3 1113.7L1376.7 1112.4L1407.1 1111.1"/>
<path d="M1072.2 1121.5L1073.6 1182.0"/>
</g></g>
<rect x="20" y="100" width="1305" height="1034" fill="none" stroke="#000" stroke-width="2.2"/>
<rect x="351.4" y="111.4" width="644.2" height="93.4" fill="#fff" stroke="#000" stroke-width="2.8"/>
<g font-family='"DejaVu Sans","Liberation Sans",sans-serif' font-size="23.0" fill="#000">
<text x="358.3" y="139.9">statewide departure from 1901-2000 avg: +0.5 inches</text>
<text x="358.3" y="166.5">statewide departure from 1991-2020 avg: +0.5 inches</text>
<text x="358.3" y="193.1">statewide rank: 103rd driest/29th wettest</text>
</g>
<rect x="32.2" y="1040.2" width="626.4" height="82.7" fill="#fff" stroke="#000" stroke-width="2.8"/>
<g font-family='"DejaVu Sans","Liberation Sans",sans-serif' font-size="21.6" fill="#000">
<text x="37.6" y="1066.3">source: PRISM Climate Group, Oregon State University</text>
<text x="37.6" y="1089.5">map: Colorado Climate Center/Colorado State University</text>
<text x="37.6" y="1112.7">map generated 05 March 2025</text>
</g>
<g font-family='"DejaVu Sans","Liberation Sans",sans-serif' font-size="33.4" fill="#000" text-anchor="middle">
<text x="672.7" y="45.7">percent of 1991-2020 average precipitation (preliminary PRISM data)</text>
<text x="672.5" y="83.8">2 months ending February 1969 (Jan-Feb)</text>
</g>
<rect x="122.50" y="1147.5" width="122.67" height="39.0" fill="#734208"/>
<rect x="244.67" y="1147.5" width="122.67" height="39.0" fill="#ad7021"/>
<rect x="366.84" y="1147.5" width="122.67" height="39.0" fill="#d8b46c"/>
<rect x="489.01" y="1147.5" width="122.67" height="39.0" fill="#f3e4bb"/>
<rect x="611.18" y="1147.5" width="122.67" height="39.0" fill="#f4f5f5"/>
<rect x="733.35" y="1147.5" width="122.67" height="39.0" fill="#bfe7e1"/>
<rect x="855.52" y="1147.5" width="122.67" height="39.0" fill="#70c1b6"/>
<rect x="977.69" y="1147.5" width="122.67" height="39.0" fill="#23867e"/>
<rect x="1099.86" y="1147.5" width="122.67" height="39.0" fill="#015349"/>
<path d="M122.5 1147.5L67.5 1167.0L122.5 1186.5Z" fill="#543005"/>
<path d="M1222.0 1147.5L1276.3 1167.0L1222.0 1186.5Z" fill="#003c30"/>
<path d="M122.5 1147.5L67.5 1167.0L122.5 1186.5L1222.0 1186.5L1276.3 1167.0L1222.0 1147.5Z" fill="none" stroke="#000" stroke-width="2.2" stroke-linejoin="miter"/>
<g stroke="#000" stroke-width="2.2">
<path d="M122.5 1186.5V1196.5"/>
<path d="M244.7 1186.5V1196.5"/>
<path d="M366.8 1186.5V1196.5"/>
<path d="M489.0 1186.5V1196.5"/>
<path d="M611.2 1186.5V1196.5"/>
<path d="M733.4 1186.5V1196.5"/>
<path d="M855.5 1186.5V1196.5"/>
<path d="M977.7 1186.5V1196.5"/>
<path d="M1099.9 1186.5V1196.5"/>
<path d="M1222.0 1186.5V1196.5"/>
</g>
<g font-family='"DejaVu Sans","Liberation Sans",sans-serif' font-size="27.78" fill="#000" text-anchor="middle">
<text x="122.5" y="1230.5">10</text>
<text x="244.7" y="1230.5">30</text>
<text x="366.8" y="1230.5">50</text>
<text x="489.0" y="1230.5">70</text>
<text x="611.2" y="1230.5">90</text>
<text x="733.4" y="1230.5">110</text>
<text x="855.5" y="1230.5">130</text>
<text x="977.7" y="1230.5">150</text>
<text x="1099.9" y="1230.5">170</text>
<text x="1222.0" y="1230.5">190</text>
</g>
<text x="672.5" y="1272.5" font-family='"DejaVu Sans","Liberation Sans",sans-serif' font-size="33.45" fill="#000" text-anchor="middle">percent of average precipitation</text>
</svg>
</body></html>
